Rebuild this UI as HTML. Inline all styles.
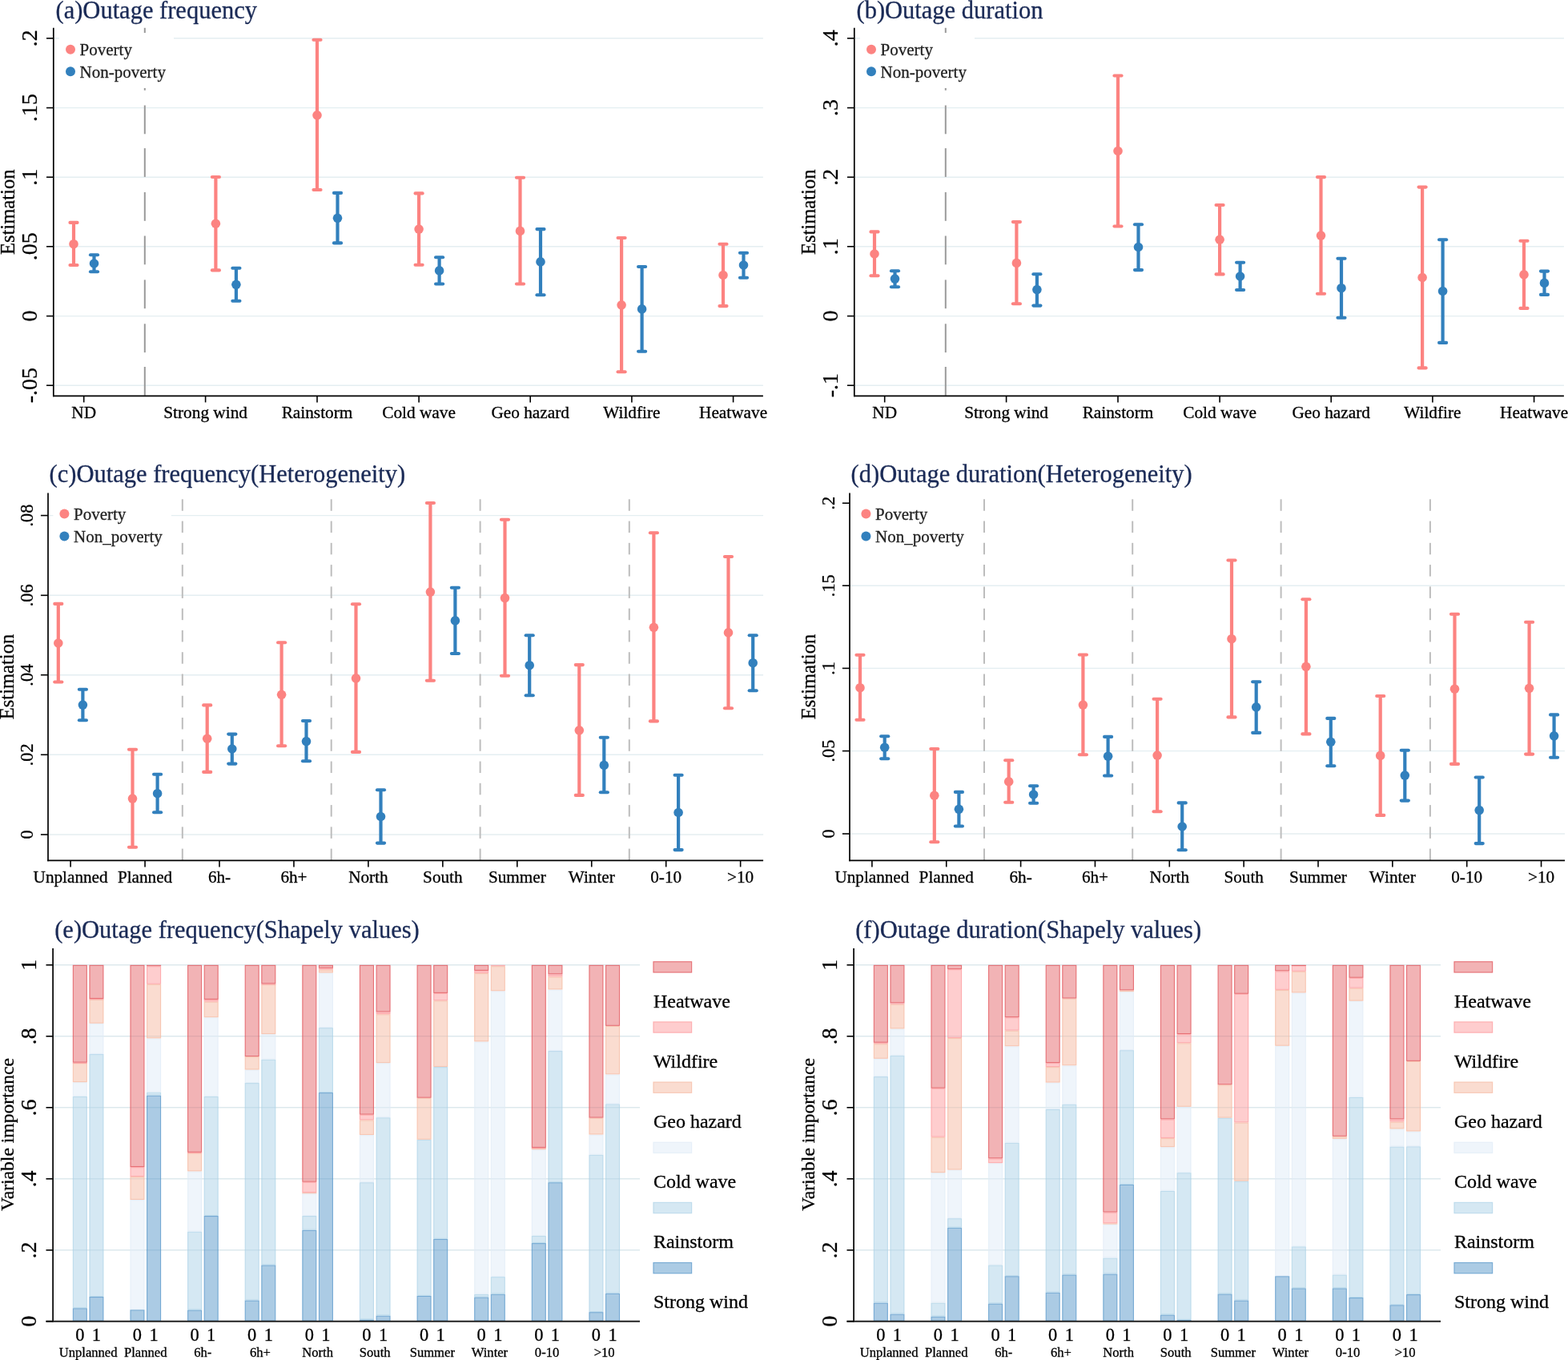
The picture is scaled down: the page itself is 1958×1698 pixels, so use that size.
<!DOCTYPE html>
<html><head><meta charset="utf-8"><title>Outage charts</title>
<style>html,body{margin:0;padding:0;background:#fff;overflow:hidden;}svg{display:block;}</style>
</head><body>
<svg width="1958" height="1698" viewBox="0 0 1958 1698">
<rect x="0" y="0" width="1958" height="1698" fill="#fff"/>
<g font-family='"Liberation Serif", "Times New Roman", serif'>
<line x1="67.6" y1="47.8" x2="952.9" y2="47.8" stroke="#e4eef1" stroke-width="1.4"/>
<line x1="67.6" y1="134.6" x2="952.9" y2="134.6" stroke="#e4eef1" stroke-width="1.4"/>
<line x1="67.6" y1="221.2" x2="952.9" y2="221.2" stroke="#e4eef1" stroke-width="1.4"/>
<line x1="67.6" y1="307.8" x2="952.9" y2="307.8" stroke="#e4eef1" stroke-width="1.4"/>
<line x1="67.6" y1="394.6" x2="952.9" y2="394.6" stroke="#e4eef1" stroke-width="1.4"/>
<line x1="67.6" y1="481.2" x2="952.9" y2="481.2" stroke="#e4eef1" stroke-width="1.4"/>
<line x1="180.8" y1="34.8" x2="180.8" y2="58.3" stroke="#9a9a9a" stroke-width="2"/>
<line x1="180.8" y1="77" x2="180.8" y2="112.8" stroke="#9a9a9a" stroke-width="2"/>
<line x1="180.8" y1="131.5" x2="180.8" y2="167.3" stroke="#9a9a9a" stroke-width="2"/>
<line x1="180.8" y1="185.1" x2="180.8" y2="220.9" stroke="#9a9a9a" stroke-width="2"/>
<line x1="180.8" y1="240" x2="180.8" y2="275.8" stroke="#9a9a9a" stroke-width="2"/>
<line x1="180.8" y1="294.5" x2="180.8" y2="330.3" stroke="#9a9a9a" stroke-width="2"/>
<line x1="180.8" y1="349.4" x2="180.8" y2="385.2" stroke="#9a9a9a" stroke-width="2"/>
<line x1="180.8" y1="404.3" x2="180.8" y2="440.1" stroke="#9a9a9a" stroke-width="2"/>
<line x1="180.8" y1="458" x2="180.8" y2="493.8" stroke="#9a9a9a" stroke-width="2"/>
<rect x="74" y="41" width="143" height="69" fill="#fff"/>
<circle cx="88" cy="61.7" r="6" fill="#fc8381"/>
<circle cx="88" cy="89.3" r="6" fill="#3280bd"/>
<text x="99.6" y="69" font-size="21" text-anchor="start" fill="#222" stroke="#222" stroke-width="0.3">Poverty</text>
<text x="99.6" y="96.6" font-size="21" text-anchor="start" fill="#222" stroke="#222" stroke-width="0.3">Non-poverty</text>
<line x1="66.8" y1="34.8" x2="66.8" y2="495.2" stroke="#000" stroke-width="1.7"/>
<line x1="66" y1="494.4" x2="952.9" y2="494.4" stroke="#000" stroke-width="1.7"/>
<line x1="58" y1="47.8" x2="66.8" y2="47.8" stroke="#000" stroke-width="1.6"/>
<text transform="translate(46.3,47.8) rotate(-90)" font-size="28" text-anchor="middle" fill="#000" stroke="#000" stroke-width="0.3">.2</text>
<line x1="58" y1="134.6" x2="66.8" y2="134.6" stroke="#000" stroke-width="1.6"/>
<text transform="translate(46.3,134.6) rotate(-90)" font-size="28" text-anchor="middle" fill="#000" stroke="#000" stroke-width="0.3">.15</text>
<line x1="58" y1="221.2" x2="66.8" y2="221.2" stroke="#000" stroke-width="1.6"/>
<text transform="translate(46.3,221.2) rotate(-90)" font-size="28" text-anchor="middle" fill="#000" stroke="#000" stroke-width="0.3">.1</text>
<line x1="58" y1="307.8" x2="66.8" y2="307.8" stroke="#000" stroke-width="1.6"/>
<text transform="translate(46.3,307.8) rotate(-90)" font-size="28" text-anchor="middle" fill="#000" stroke="#000" stroke-width="0.3">.05</text>
<line x1="58" y1="394.6" x2="66.8" y2="394.6" stroke="#000" stroke-width="1.6"/>
<text transform="translate(46.3,394.6) rotate(-90)" font-size="28" text-anchor="middle" fill="#000" stroke="#000" stroke-width="0.3">0</text>
<line x1="58" y1="481.2" x2="66.8" y2="481.2" stroke="#000" stroke-width="1.6"/>
<text transform="translate(46.3,481.2) rotate(-90)" font-size="28" text-anchor="middle" fill="#000" stroke="#000" stroke-width="0.3">-.05</text>
<line x1="104.7" y1="494.4" x2="104.7" y2="502.4" stroke="#000" stroke-width="1.6"/>
<text x="104.7" y="522.2" font-size="21.3" text-anchor="middle" fill="#000" stroke="#000" stroke-width="0.3">ND</text>
<line x1="256.6" y1="494.4" x2="256.6" y2="502.4" stroke="#000" stroke-width="1.6"/>
<text x="256.6" y="522.2" font-size="21.3" text-anchor="middle" fill="#000" stroke="#000" stroke-width="0.3">Strong wind</text>
<line x1="396" y1="494.4" x2="396" y2="502.4" stroke="#000" stroke-width="1.6"/>
<text x="396" y="522.2" font-size="21.3" text-anchor="middle" fill="#000" stroke="#000" stroke-width="0.3">Rainstorm</text>
<line x1="523.1" y1="494.4" x2="523.1" y2="502.4" stroke="#000" stroke-width="1.6"/>
<text x="523.1" y="522.2" font-size="21.3" text-anchor="middle" fill="#000" stroke="#000" stroke-width="0.3">Cold wave</text>
<line x1="662.2" y1="494.4" x2="662.2" y2="502.4" stroke="#000" stroke-width="1.6"/>
<text x="662.2" y="522.2" font-size="21.3" text-anchor="middle" fill="#000" stroke="#000" stroke-width="0.3">Geo hazard</text>
<line x1="788.9" y1="494.4" x2="788.9" y2="502.4" stroke="#000" stroke-width="1.6"/>
<text x="788.9" y="522.2" font-size="21.3" text-anchor="middle" fill="#000" stroke="#000" stroke-width="0.3">Wildfire</text>
<line x1="915.6" y1="494.4" x2="915.6" y2="502.4" stroke="#000" stroke-width="1.6"/>
<text x="915.6" y="522.2" font-size="21.3" text-anchor="middle" fill="#000" stroke="#000" stroke-width="0.3">Heatwave</text>
<text transform="translate(18.3,264.8) rotate(-90)" font-size="24.6" text-anchor="middle" fill="#000" stroke="#000" stroke-width="0.3">Estimation</text>
<text x="69.5" y="22.6" font-size="30.5" text-anchor="start" fill="#1a2a56" stroke="#1a2a56" stroke-width="0.3">(a)Outage frequency</text>
<line x1="92" y1="277.9" x2="92" y2="331" stroke="#fc8381" stroke-width="4.2"/>
<line x1="87.45" y1="277.9" x2="96.55" y2="277.9" stroke="#fc8381" stroke-width="4.1" stroke-linecap="round"/>
<line x1="87.45" y1="331" x2="96.55" y2="331" stroke="#fc8381" stroke-width="4.1" stroke-linecap="round"/>
<circle cx="92" cy="304.7" r="5.8" fill="#fc8381"/>
<line x1="117.5" y1="318.2" x2="117.5" y2="339.2" stroke="#3280bd" stroke-width="4.2"/>
<line x1="112.95" y1="318.2" x2="122.05" y2="318.2" stroke="#3280bd" stroke-width="4.1" stroke-linecap="round"/>
<line x1="112.95" y1="339.2" x2="122.05" y2="339.2" stroke="#3280bd" stroke-width="4.1" stroke-linecap="round"/>
<circle cx="117.5" cy="329" r="5.8" fill="#3280bd"/>
<line x1="269.4" y1="221" x2="269.4" y2="337.4" stroke="#fc8381" stroke-width="4.2"/>
<line x1="264.85" y1="221" x2="273.95" y2="221" stroke="#fc8381" stroke-width="4.1" stroke-linecap="round"/>
<line x1="264.85" y1="337.4" x2="273.95" y2="337.4" stroke="#fc8381" stroke-width="4.1" stroke-linecap="round"/>
<circle cx="269.4" cy="279.2" r="5.8" fill="#fc8381"/>
<line x1="294.9" y1="334.8" x2="294.9" y2="375.7" stroke="#3280bd" stroke-width="4.2"/>
<line x1="290.35" y1="334.8" x2="299.45" y2="334.8" stroke="#3280bd" stroke-width="4.1" stroke-linecap="round"/>
<line x1="290.35" y1="375.7" x2="299.45" y2="375.7" stroke="#3280bd" stroke-width="4.1" stroke-linecap="round"/>
<circle cx="294.9" cy="355.3" r="5.8" fill="#3280bd"/>
<line x1="396" y1="49.8" x2="396" y2="237" stroke="#fc8381" stroke-width="4.2"/>
<line x1="391.45" y1="49.8" x2="400.55" y2="49.8" stroke="#fc8381" stroke-width="4.1" stroke-linecap="round"/>
<line x1="391.45" y1="237" x2="400.55" y2="237" stroke="#fc8381" stroke-width="4.1" stroke-linecap="round"/>
<circle cx="396" cy="143.8" r="5.8" fill="#fc8381"/>
<line x1="421.5" y1="240.9" x2="421.5" y2="303.4" stroke="#3280bd" stroke-width="4.2"/>
<line x1="416.95" y1="240.9" x2="426.05" y2="240.9" stroke="#3280bd" stroke-width="4.1" stroke-linecap="round"/>
<line x1="416.95" y1="303.4" x2="426.05" y2="303.4" stroke="#3280bd" stroke-width="4.1" stroke-linecap="round"/>
<circle cx="421.5" cy="272.3" r="5.8" fill="#3280bd"/>
<line x1="523.1" y1="241.4" x2="523.1" y2="330.7" stroke="#fc8381" stroke-width="4.2"/>
<line x1="518.55" y1="241.4" x2="527.65" y2="241.4" stroke="#fc8381" stroke-width="4.1" stroke-linecap="round"/>
<line x1="518.55" y1="330.7" x2="527.65" y2="330.7" stroke="#fc8381" stroke-width="4.1" stroke-linecap="round"/>
<circle cx="523.1" cy="286.1" r="5.8" fill="#fc8381"/>
<line x1="548.6" y1="321.3" x2="548.6" y2="354.5" stroke="#3280bd" stroke-width="4.2"/>
<line x1="544.05" y1="321.3" x2="553.15" y2="321.3" stroke="#3280bd" stroke-width="4.1" stroke-linecap="round"/>
<line x1="544.05" y1="354.5" x2="553.15" y2="354.5" stroke="#3280bd" stroke-width="4.1" stroke-linecap="round"/>
<circle cx="548.6" cy="337.9" r="5.8" fill="#3280bd"/>
<line x1="649.5" y1="221.7" x2="649.5" y2="354.5" stroke="#fc8381" stroke-width="4.2"/>
<line x1="644.95" y1="221.7" x2="654.05" y2="221.7" stroke="#fc8381" stroke-width="4.1" stroke-linecap="round"/>
<line x1="644.95" y1="354.5" x2="654.05" y2="354.5" stroke="#fc8381" stroke-width="4.1" stroke-linecap="round"/>
<circle cx="649.5" cy="288.4" r="5.8" fill="#fc8381"/>
<line x1="675" y1="286.1" x2="675" y2="368.3" stroke="#3280bd" stroke-width="4.2"/>
<line x1="670.45" y1="286.1" x2="679.55" y2="286.1" stroke="#3280bd" stroke-width="4.1" stroke-linecap="round"/>
<line x1="670.45" y1="368.3" x2="679.55" y2="368.3" stroke="#3280bd" stroke-width="4.1" stroke-linecap="round"/>
<circle cx="675" cy="326.9" r="5.8" fill="#3280bd"/>
<line x1="776.1" y1="297" x2="776.1" y2="464.3" stroke="#fc8381" stroke-width="4.2"/>
<line x1="771.55" y1="297" x2="780.65" y2="297" stroke="#fc8381" stroke-width="4.1" stroke-linecap="round"/>
<line x1="771.55" y1="464.3" x2="780.65" y2="464.3" stroke="#fc8381" stroke-width="4.1" stroke-linecap="round"/>
<circle cx="776.1" cy="380.8" r="5.8" fill="#fc8381"/>
<line x1="801.6" y1="333" x2="801.6" y2="438.8" stroke="#3280bd" stroke-width="4.2"/>
<line x1="797.05" y1="333" x2="806.15" y2="333" stroke="#3280bd" stroke-width="4.1" stroke-linecap="round"/>
<line x1="797.05" y1="438.8" x2="806.15" y2="438.8" stroke="#3280bd" stroke-width="4.1" stroke-linecap="round"/>
<circle cx="801.6" cy="385.9" r="5.8" fill="#3280bd"/>
<line x1="903" y1="304.7" x2="903" y2="382.1" stroke="#fc8381" stroke-width="4.2"/>
<line x1="898.45" y1="304.7" x2="907.55" y2="304.7" stroke="#fc8381" stroke-width="4.1" stroke-linecap="round"/>
<line x1="898.45" y1="382.1" x2="907.55" y2="382.1" stroke="#fc8381" stroke-width="4.1" stroke-linecap="round"/>
<circle cx="903" cy="343.5" r="5.8" fill="#fc8381"/>
<line x1="928.5" y1="315.7" x2="928.5" y2="346.8" stroke="#3280bd" stroke-width="4.2"/>
<line x1="923.95" y1="315.7" x2="933.05" y2="315.7" stroke="#3280bd" stroke-width="4.1" stroke-linecap="round"/>
<line x1="923.95" y1="346.8" x2="933.05" y2="346.8" stroke="#3280bd" stroke-width="4.1" stroke-linecap="round"/>
<circle cx="928.5" cy="331" r="5.8" fill="#3280bd"/>
<line x1="1067.6" y1="47.8" x2="1952.9" y2="47.8" stroke="#e4eef1" stroke-width="1.4"/>
<line x1="1067.6" y1="134.6" x2="1952.9" y2="134.6" stroke="#e4eef1" stroke-width="1.4"/>
<line x1="1067.6" y1="221.2" x2="1952.9" y2="221.2" stroke="#e4eef1" stroke-width="1.4"/>
<line x1="1067.6" y1="307.8" x2="1952.9" y2="307.8" stroke="#e4eef1" stroke-width="1.4"/>
<line x1="1067.6" y1="394.6" x2="1952.9" y2="394.6" stroke="#e4eef1" stroke-width="1.4"/>
<line x1="1067.6" y1="481.2" x2="1952.9" y2="481.2" stroke="#e4eef1" stroke-width="1.4"/>
<line x1="1180.8" y1="34.8" x2="1180.8" y2="58.3" stroke="#9a9a9a" stroke-width="2"/>
<line x1="1180.8" y1="77" x2="1180.8" y2="112.8" stroke="#9a9a9a" stroke-width="2"/>
<line x1="1180.8" y1="131.5" x2="1180.8" y2="167.3" stroke="#9a9a9a" stroke-width="2"/>
<line x1="1180.8" y1="185.1" x2="1180.8" y2="220.9" stroke="#9a9a9a" stroke-width="2"/>
<line x1="1180.8" y1="240" x2="1180.8" y2="275.8" stroke="#9a9a9a" stroke-width="2"/>
<line x1="1180.8" y1="294.5" x2="1180.8" y2="330.3" stroke="#9a9a9a" stroke-width="2"/>
<line x1="1180.8" y1="349.4" x2="1180.8" y2="385.2" stroke="#9a9a9a" stroke-width="2"/>
<line x1="1180.8" y1="404.3" x2="1180.8" y2="440.1" stroke="#9a9a9a" stroke-width="2"/>
<line x1="1180.8" y1="458" x2="1180.8" y2="493.8" stroke="#9a9a9a" stroke-width="2"/>
<rect x="1074" y="41" width="143" height="69" fill="#fff"/>
<circle cx="1088" cy="61.7" r="6" fill="#fc8381"/>
<circle cx="1088" cy="89.3" r="6" fill="#3280bd"/>
<text x="1099.6" y="69" font-size="21" text-anchor="start" fill="#222" stroke="#222" stroke-width="0.3">Poverty</text>
<text x="1099.6" y="96.6" font-size="21" text-anchor="start" fill="#222" stroke="#222" stroke-width="0.3">Non-poverty</text>
<line x1="1066.8" y1="34.8" x2="1066.8" y2="495.2" stroke="#000" stroke-width="1.7"/>
<line x1="1066" y1="494.4" x2="1952.9" y2="494.4" stroke="#000" stroke-width="1.7"/>
<line x1="1058" y1="47.8" x2="1066.8" y2="47.8" stroke="#000" stroke-width="1.6"/>
<text transform="translate(1046.3,47.8) rotate(-90)" font-size="28" text-anchor="middle" fill="#000" stroke="#000" stroke-width="0.3">.4</text>
<line x1="1058" y1="134.6" x2="1066.8" y2="134.6" stroke="#000" stroke-width="1.6"/>
<text transform="translate(1046.3,134.6) rotate(-90)" font-size="28" text-anchor="middle" fill="#000" stroke="#000" stroke-width="0.3">.3</text>
<line x1="1058" y1="221.2" x2="1066.8" y2="221.2" stroke="#000" stroke-width="1.6"/>
<text transform="translate(1046.3,221.2) rotate(-90)" font-size="28" text-anchor="middle" fill="#000" stroke="#000" stroke-width="0.3">.2</text>
<line x1="1058" y1="307.8" x2="1066.8" y2="307.8" stroke="#000" stroke-width="1.6"/>
<text transform="translate(1046.3,307.8) rotate(-90)" font-size="28" text-anchor="middle" fill="#000" stroke="#000" stroke-width="0.3">.1</text>
<line x1="1058" y1="394.6" x2="1066.8" y2="394.6" stroke="#000" stroke-width="1.6"/>
<text transform="translate(1046.3,394.6) rotate(-90)" font-size="28" text-anchor="middle" fill="#000" stroke="#000" stroke-width="0.3">0</text>
<line x1="1058" y1="481.2" x2="1066.8" y2="481.2" stroke="#000" stroke-width="1.6"/>
<text transform="translate(1046.3,481.2) rotate(-90)" font-size="28" text-anchor="middle" fill="#000" stroke="#000" stroke-width="0.3">-.1</text>
<line x1="1104.7" y1="494.4" x2="1104.7" y2="502.4" stroke="#000" stroke-width="1.6"/>
<text x="1104.7" y="522.2" font-size="21.3" text-anchor="middle" fill="#000" stroke="#000" stroke-width="0.3">ND</text>
<line x1="1256.6" y1="494.4" x2="1256.6" y2="502.4" stroke="#000" stroke-width="1.6"/>
<text x="1256.6" y="522.2" font-size="21.3" text-anchor="middle" fill="#000" stroke="#000" stroke-width="0.3">Strong wind</text>
<line x1="1396" y1="494.4" x2="1396" y2="502.4" stroke="#000" stroke-width="1.6"/>
<text x="1396" y="522.2" font-size="21.3" text-anchor="middle" fill="#000" stroke="#000" stroke-width="0.3">Rainstorm</text>
<line x1="1523.1" y1="494.4" x2="1523.1" y2="502.4" stroke="#000" stroke-width="1.6"/>
<text x="1523.1" y="522.2" font-size="21.3" text-anchor="middle" fill="#000" stroke="#000" stroke-width="0.3">Cold wave</text>
<line x1="1662.2" y1="494.4" x2="1662.2" y2="502.4" stroke="#000" stroke-width="1.6"/>
<text x="1662.2" y="522.2" font-size="21.3" text-anchor="middle" fill="#000" stroke="#000" stroke-width="0.3">Geo hazard</text>
<line x1="1788.9" y1="494.4" x2="1788.9" y2="502.4" stroke="#000" stroke-width="1.6"/>
<text x="1788.9" y="522.2" font-size="21.3" text-anchor="middle" fill="#000" stroke="#000" stroke-width="0.3">Wildfire</text>
<line x1="1915.6" y1="494.4" x2="1915.6" y2="502.4" stroke="#000" stroke-width="1.6"/>
<text x="1915.6" y="522.2" font-size="21.3" text-anchor="middle" fill="#000" stroke="#000" stroke-width="0.3">Heatwave</text>
<text transform="translate(1018.3,264.8) rotate(-90)" font-size="24.6" text-anchor="middle" fill="#000" stroke="#000" stroke-width="0.3">Estimation</text>
<text x="1069.5" y="22.6" font-size="30.5" text-anchor="start" fill="#1a2a56" stroke="#1a2a56" stroke-width="0.3">(b)Outage duration</text>
<line x1="1092" y1="289.4" x2="1092" y2="344.3" stroke="#fc8381" stroke-width="4.2"/>
<line x1="1087.45" y1="289.4" x2="1096.55" y2="289.4" stroke="#fc8381" stroke-width="4.1" stroke-linecap="round"/>
<line x1="1087.45" y1="344.3" x2="1096.55" y2="344.3" stroke="#fc8381" stroke-width="4.1" stroke-linecap="round"/>
<circle cx="1092" cy="317" r="5.8" fill="#fc8381"/>
<line x1="1117.5" y1="338.2" x2="1117.5" y2="358.3" stroke="#3280bd" stroke-width="4.2"/>
<line x1="1112.95" y1="338.2" x2="1122.05" y2="338.2" stroke="#3280bd" stroke-width="4.1" stroke-linecap="round"/>
<line x1="1112.95" y1="358.3" x2="1122.05" y2="358.3" stroke="#3280bd" stroke-width="4.1" stroke-linecap="round"/>
<circle cx="1117.5" cy="348.1" r="5.8" fill="#3280bd"/>
<line x1="1269.4" y1="277.1" x2="1269.4" y2="379.3" stroke="#fc8381" stroke-width="4.2"/>
<line x1="1264.85" y1="277.1" x2="1273.95" y2="277.1" stroke="#fc8381" stroke-width="4.1" stroke-linecap="round"/>
<line x1="1264.85" y1="379.3" x2="1273.95" y2="379.3" stroke="#fc8381" stroke-width="4.1" stroke-linecap="round"/>
<circle cx="1269.4" cy="328.4" r="5.8" fill="#fc8381"/>
<line x1="1294.9" y1="342.2" x2="1294.9" y2="381.6" stroke="#3280bd" stroke-width="4.2"/>
<line x1="1290.35" y1="342.2" x2="1299.45" y2="342.2" stroke="#3280bd" stroke-width="4.1" stroke-linecap="round"/>
<line x1="1290.35" y1="381.6" x2="1299.45" y2="381.6" stroke="#3280bd" stroke-width="4.1" stroke-linecap="round"/>
<circle cx="1294.9" cy="361.6" r="5.8" fill="#3280bd"/>
<line x1="1396" y1="94.5" x2="1396" y2="282.5" stroke="#fc8381" stroke-width="4.2"/>
<line x1="1391.45" y1="94.5" x2="1400.55" y2="94.5" stroke="#fc8381" stroke-width="4.1" stroke-linecap="round"/>
<line x1="1391.45" y1="282.5" x2="1400.55" y2="282.5" stroke="#fc8381" stroke-width="4.1" stroke-linecap="round"/>
<circle cx="1396" cy="188.5" r="5.8" fill="#fc8381"/>
<line x1="1421.5" y1="280.2" x2="1421.5" y2="337.1" stroke="#3280bd" stroke-width="4.2"/>
<line x1="1416.95" y1="280.2" x2="1426.05" y2="280.2" stroke="#3280bd" stroke-width="4.1" stroke-linecap="round"/>
<line x1="1416.95" y1="337.1" x2="1426.05" y2="337.1" stroke="#3280bd" stroke-width="4.1" stroke-linecap="round"/>
<circle cx="1421.5" cy="308.5" r="5.8" fill="#3280bd"/>
<line x1="1523.1" y1="256" x2="1523.1" y2="342.4" stroke="#fc8381" stroke-width="4.2"/>
<line x1="1518.55" y1="256" x2="1527.65" y2="256" stroke="#fc8381" stroke-width="4.1" stroke-linecap="round"/>
<line x1="1518.55" y1="342.4" x2="1527.65" y2="342.4" stroke="#fc8381" stroke-width="4.1" stroke-linecap="round"/>
<circle cx="1523.1" cy="299.2" r="5.8" fill="#fc8381"/>
<line x1="1548.6" y1="327.7" x2="1548.6" y2="362" stroke="#3280bd" stroke-width="4.2"/>
<line x1="1544.05" y1="327.7" x2="1553.15" y2="327.7" stroke="#3280bd" stroke-width="4.1" stroke-linecap="round"/>
<line x1="1544.05" y1="362" x2="1553.15" y2="362" stroke="#3280bd" stroke-width="4.1" stroke-linecap="round"/>
<circle cx="1548.6" cy="345" r="5.8" fill="#3280bd"/>
<line x1="1649.5" y1="221.1" x2="1649.5" y2="366.8" stroke="#fc8381" stroke-width="4.2"/>
<line x1="1644.95" y1="221.1" x2="1654.05" y2="221.1" stroke="#fc8381" stroke-width="4.1" stroke-linecap="round"/>
<line x1="1644.95" y1="366.8" x2="1654.05" y2="366.8" stroke="#fc8381" stroke-width="4.1" stroke-linecap="round"/>
<circle cx="1649.5" cy="294.1" r="5.8" fill="#fc8381"/>
<line x1="1675" y1="322.8" x2="1675" y2="396.8" stroke="#3280bd" stroke-width="4.2"/>
<line x1="1670.45" y1="322.8" x2="1679.55" y2="322.8" stroke="#3280bd" stroke-width="4.1" stroke-linecap="round"/>
<line x1="1670.45" y1="396.8" x2="1679.55" y2="396.8" stroke="#3280bd" stroke-width="4.1" stroke-linecap="round"/>
<circle cx="1675" cy="359.7" r="5.8" fill="#3280bd"/>
<line x1="1776.1" y1="233.6" x2="1776.1" y2="459.4" stroke="#fc8381" stroke-width="4.2"/>
<line x1="1771.55" y1="233.6" x2="1780.65" y2="233.6" stroke="#fc8381" stroke-width="4.1" stroke-linecap="round"/>
<line x1="1771.55" y1="459.4" x2="1780.65" y2="459.4" stroke="#fc8381" stroke-width="4.1" stroke-linecap="round"/>
<circle cx="1776.1" cy="346.5" r="5.8" fill="#fc8381"/>
<line x1="1801.6" y1="299.2" x2="1801.6" y2="427.9" stroke="#3280bd" stroke-width="4.2"/>
<line x1="1797.05" y1="299.2" x2="1806.15" y2="299.2" stroke="#3280bd" stroke-width="4.1" stroke-linecap="round"/>
<line x1="1797.05" y1="427.9" x2="1806.15" y2="427.9" stroke="#3280bd" stroke-width="4.1" stroke-linecap="round"/>
<circle cx="1801.6" cy="363.5" r="5.8" fill="#3280bd"/>
<line x1="1903" y1="300.7" x2="1903" y2="384.9" stroke="#fc8381" stroke-width="4.2"/>
<line x1="1898.45" y1="300.7" x2="1907.55" y2="300.7" stroke="#fc8381" stroke-width="4.1" stroke-linecap="round"/>
<line x1="1898.45" y1="384.9" x2="1907.55" y2="384.9" stroke="#fc8381" stroke-width="4.1" stroke-linecap="round"/>
<circle cx="1903" cy="342.9" r="5.8" fill="#fc8381"/>
<line x1="1928.5" y1="338.6" x2="1928.5" y2="367.9" stroke="#3280bd" stroke-width="4.2"/>
<line x1="1923.95" y1="338.6" x2="1933.05" y2="338.6" stroke="#3280bd" stroke-width="4.1" stroke-linecap="round"/>
<line x1="1923.95" y1="367.9" x2="1933.05" y2="367.9" stroke="#3280bd" stroke-width="4.1" stroke-linecap="round"/>
<circle cx="1928.5" cy="353.4" r="5.8" fill="#3280bd"/>
<line x1="60.8" y1="643.6" x2="953.1" y2="643.6" stroke="#e4eef1" stroke-width="1.4"/>
<line x1="60.8" y1="743.3" x2="953.1" y2="743.3" stroke="#e4eef1" stroke-width="1.4"/>
<line x1="60.8" y1="842.7" x2="953.1" y2="842.7" stroke="#e4eef1" stroke-width="1.4"/>
<line x1="60.8" y1="942.3" x2="953.1" y2="942.3" stroke="#e4eef1" stroke-width="1.4"/>
<line x1="60.8" y1="1042" x2="953.1" y2="1042" stroke="#e4eef1" stroke-width="1.4"/>
<line x1="227.8" y1="623.3" x2="227.8" y2="637.8" stroke="#bdbdbd" stroke-width="2"/>
<line x1="227.8" y1="650.57" x2="227.8" y2="665.07" stroke="#bdbdbd" stroke-width="2"/>
<line x1="227.8" y1="677.84" x2="227.8" y2="692.34" stroke="#bdbdbd" stroke-width="2"/>
<line x1="227.8" y1="705.11" x2="227.8" y2="719.61" stroke="#bdbdbd" stroke-width="2"/>
<line x1="227.8" y1="732.38" x2="227.8" y2="746.88" stroke="#bdbdbd" stroke-width="2"/>
<line x1="227.8" y1="759.65" x2="227.8" y2="774.15" stroke="#bdbdbd" stroke-width="2"/>
<line x1="227.8" y1="786.92" x2="227.8" y2="801.42" stroke="#bdbdbd" stroke-width="2"/>
<line x1="227.8" y1="814.19" x2="227.8" y2="828.69" stroke="#bdbdbd" stroke-width="2"/>
<line x1="227.8" y1="841.46" x2="227.8" y2="855.96" stroke="#bdbdbd" stroke-width="2"/>
<line x1="227.8" y1="868.73" x2="227.8" y2="883.23" stroke="#bdbdbd" stroke-width="2"/>
<line x1="227.8" y1="896" x2="227.8" y2="910.5" stroke="#bdbdbd" stroke-width="2"/>
<line x1="227.8" y1="923.27" x2="227.8" y2="937.77" stroke="#bdbdbd" stroke-width="2"/>
<line x1="227.8" y1="950.54" x2="227.8" y2="965.04" stroke="#bdbdbd" stroke-width="2"/>
<line x1="227.8" y1="977.81" x2="227.8" y2="992.31" stroke="#bdbdbd" stroke-width="2"/>
<line x1="227.8" y1="1005.08" x2="227.8" y2="1019.58" stroke="#bdbdbd" stroke-width="2"/>
<line x1="227.8" y1="1032.35" x2="227.8" y2="1046.85" stroke="#bdbdbd" stroke-width="2"/>
<line x1="227.8" y1="1059.62" x2="227.8" y2="1074.12" stroke="#bdbdbd" stroke-width="2"/>
<line x1="413.7" y1="623.3" x2="413.7" y2="637.8" stroke="#bdbdbd" stroke-width="2"/>
<line x1="413.7" y1="650.57" x2="413.7" y2="665.07" stroke="#bdbdbd" stroke-width="2"/>
<line x1="413.7" y1="677.84" x2="413.7" y2="692.34" stroke="#bdbdbd" stroke-width="2"/>
<line x1="413.7" y1="705.11" x2="413.7" y2="719.61" stroke="#bdbdbd" stroke-width="2"/>
<line x1="413.7" y1="732.38" x2="413.7" y2="746.88" stroke="#bdbdbd" stroke-width="2"/>
<line x1="413.7" y1="759.65" x2="413.7" y2="774.15" stroke="#bdbdbd" stroke-width="2"/>
<line x1="413.7" y1="786.92" x2="413.7" y2="801.42" stroke="#bdbdbd" stroke-width="2"/>
<line x1="413.7" y1="814.19" x2="413.7" y2="828.69" stroke="#bdbdbd" stroke-width="2"/>
<line x1="413.7" y1="841.46" x2="413.7" y2="855.96" stroke="#bdbdbd" stroke-width="2"/>
<line x1="413.7" y1="868.73" x2="413.7" y2="883.23" stroke="#bdbdbd" stroke-width="2"/>
<line x1="413.7" y1="896" x2="413.7" y2="910.5" stroke="#bdbdbd" stroke-width="2"/>
<line x1="413.7" y1="923.27" x2="413.7" y2="937.77" stroke="#bdbdbd" stroke-width="2"/>
<line x1="413.7" y1="950.54" x2="413.7" y2="965.04" stroke="#bdbdbd" stroke-width="2"/>
<line x1="413.7" y1="977.81" x2="413.7" y2="992.31" stroke="#bdbdbd" stroke-width="2"/>
<line x1="413.7" y1="1005.08" x2="413.7" y2="1019.58" stroke="#bdbdbd" stroke-width="2"/>
<line x1="413.7" y1="1032.35" x2="413.7" y2="1046.85" stroke="#bdbdbd" stroke-width="2"/>
<line x1="413.7" y1="1059.62" x2="413.7" y2="1074.12" stroke="#bdbdbd" stroke-width="2"/>
<line x1="599.6" y1="623.3" x2="599.6" y2="637.8" stroke="#bdbdbd" stroke-width="2"/>
<line x1="599.6" y1="650.57" x2="599.6" y2="665.07" stroke="#bdbdbd" stroke-width="2"/>
<line x1="599.6" y1="677.84" x2="599.6" y2="692.34" stroke="#bdbdbd" stroke-width="2"/>
<line x1="599.6" y1="705.11" x2="599.6" y2="719.61" stroke="#bdbdbd" stroke-width="2"/>
<line x1="599.6" y1="732.38" x2="599.6" y2="746.88" stroke="#bdbdbd" stroke-width="2"/>
<line x1="599.6" y1="759.65" x2="599.6" y2="774.15" stroke="#bdbdbd" stroke-width="2"/>
<line x1="599.6" y1="786.92" x2="599.6" y2="801.42" stroke="#bdbdbd" stroke-width="2"/>
<line x1="599.6" y1="814.19" x2="599.6" y2="828.69" stroke="#bdbdbd" stroke-width="2"/>
<line x1="599.6" y1="841.46" x2="599.6" y2="855.96" stroke="#bdbdbd" stroke-width="2"/>
<line x1="599.6" y1="868.73" x2="599.6" y2="883.23" stroke="#bdbdbd" stroke-width="2"/>
<line x1="599.6" y1="896" x2="599.6" y2="910.5" stroke="#bdbdbd" stroke-width="2"/>
<line x1="599.6" y1="923.27" x2="599.6" y2="937.77" stroke="#bdbdbd" stroke-width="2"/>
<line x1="599.6" y1="950.54" x2="599.6" y2="965.04" stroke="#bdbdbd" stroke-width="2"/>
<line x1="599.6" y1="977.81" x2="599.6" y2="992.31" stroke="#bdbdbd" stroke-width="2"/>
<line x1="599.6" y1="1005.08" x2="599.6" y2="1019.58" stroke="#bdbdbd" stroke-width="2"/>
<line x1="599.6" y1="1032.35" x2="599.6" y2="1046.85" stroke="#bdbdbd" stroke-width="2"/>
<line x1="599.6" y1="1059.62" x2="599.6" y2="1074.12" stroke="#bdbdbd" stroke-width="2"/>
<line x1="785.8" y1="623.3" x2="785.8" y2="637.8" stroke="#bdbdbd" stroke-width="2"/>
<line x1="785.8" y1="650.57" x2="785.8" y2="665.07" stroke="#bdbdbd" stroke-width="2"/>
<line x1="785.8" y1="677.84" x2="785.8" y2="692.34" stroke="#bdbdbd" stroke-width="2"/>
<line x1="785.8" y1="705.11" x2="785.8" y2="719.61" stroke="#bdbdbd" stroke-width="2"/>
<line x1="785.8" y1="732.38" x2="785.8" y2="746.88" stroke="#bdbdbd" stroke-width="2"/>
<line x1="785.8" y1="759.65" x2="785.8" y2="774.15" stroke="#bdbdbd" stroke-width="2"/>
<line x1="785.8" y1="786.92" x2="785.8" y2="801.42" stroke="#bdbdbd" stroke-width="2"/>
<line x1="785.8" y1="814.19" x2="785.8" y2="828.69" stroke="#bdbdbd" stroke-width="2"/>
<line x1="785.8" y1="841.46" x2="785.8" y2="855.96" stroke="#bdbdbd" stroke-width="2"/>
<line x1="785.8" y1="868.73" x2="785.8" y2="883.23" stroke="#bdbdbd" stroke-width="2"/>
<line x1="785.8" y1="896" x2="785.8" y2="910.5" stroke="#bdbdbd" stroke-width="2"/>
<line x1="785.8" y1="923.27" x2="785.8" y2="937.77" stroke="#bdbdbd" stroke-width="2"/>
<line x1="785.8" y1="950.54" x2="785.8" y2="965.04" stroke="#bdbdbd" stroke-width="2"/>
<line x1="785.8" y1="977.81" x2="785.8" y2="992.31" stroke="#bdbdbd" stroke-width="2"/>
<line x1="785.8" y1="1005.08" x2="785.8" y2="1019.58" stroke="#bdbdbd" stroke-width="2"/>
<line x1="785.8" y1="1032.35" x2="785.8" y2="1046.85" stroke="#bdbdbd" stroke-width="2"/>
<line x1="785.8" y1="1059.62" x2="785.8" y2="1074.12" stroke="#bdbdbd" stroke-width="2"/>
<rect x="66.4" y="620" width="147.4" height="71" fill="#fff"/>
<circle cx="80.4" cy="641.5" r="6" fill="#fc8381"/>
<circle cx="80.4" cy="669.6" r="6" fill="#3280bd"/>
<text x="92" y="649.3" font-size="21" text-anchor="start" fill="#222" stroke="#222" stroke-width="0.3">Poverty</text>
<text x="92" y="677.3" font-size="21" text-anchor="start" fill="#222" stroke="#222" stroke-width="0.3">Non_poverty</text>
<line x1="60" y1="615.5" x2="60" y2="1075.2" stroke="#000" stroke-width="1.7"/>
<line x1="59.2" y1="1074.4" x2="953.1" y2="1074.4" stroke="#000" stroke-width="1.7"/>
<line x1="50.9" y1="643.6" x2="60" y2="643.6" stroke="#000" stroke-width="1.6"/>
<text transform="translate(41,643.6) rotate(-90)" font-size="22.3" text-anchor="middle" fill="#000" stroke="#000" stroke-width="0.3">.08</text>
<line x1="50.9" y1="743.3" x2="60" y2="743.3" stroke="#000" stroke-width="1.6"/>
<text transform="translate(41,743.3) rotate(-90)" font-size="22.3" text-anchor="middle" fill="#000" stroke="#000" stroke-width="0.3">.06</text>
<line x1="50.9" y1="842.7" x2="60" y2="842.7" stroke="#000" stroke-width="1.6"/>
<text transform="translate(41,842.7) rotate(-90)" font-size="22.3" text-anchor="middle" fill="#000" stroke="#000" stroke-width="0.3">.04</text>
<line x1="50.9" y1="942.3" x2="60" y2="942.3" stroke="#000" stroke-width="1.6"/>
<text transform="translate(41,942.3) rotate(-90)" font-size="22.3" text-anchor="middle" fill="#000" stroke="#000" stroke-width="0.3">.02</text>
<line x1="50.9" y1="1042" x2="60" y2="1042" stroke="#000" stroke-width="1.6"/>
<text transform="translate(41,1042) rotate(-90)" font-size="22.3" text-anchor="middle" fill="#000" stroke="#000" stroke-width="0.3">0</text>
<line x1="88.1" y1="1074.4" x2="88.1" y2="1082.4" stroke="#000" stroke-width="1.6"/>
<text x="88.1" y="1101.8" font-size="21.2" text-anchor="middle" fill="#000" stroke="#000" stroke-width="0.3">Unplanned</text>
<line x1="181.05" y1="1074.4" x2="181.05" y2="1082.4" stroke="#000" stroke-width="1.6"/>
<text x="181.05" y="1101.8" font-size="21.2" text-anchor="middle" fill="#000" stroke="#000" stroke-width="0.3">Planned</text>
<line x1="274" y1="1074.4" x2="274" y2="1082.4" stroke="#000" stroke-width="1.6"/>
<text x="274" y="1101.8" font-size="21.2" text-anchor="middle" fill="#000" stroke="#000" stroke-width="0.3">6h-</text>
<line x1="366.95" y1="1074.4" x2="366.95" y2="1082.4" stroke="#000" stroke-width="1.6"/>
<text x="366.95" y="1101.8" font-size="21.2" text-anchor="middle" fill="#000" stroke="#000" stroke-width="0.3">6h+</text>
<line x1="459.9" y1="1074.4" x2="459.9" y2="1082.4" stroke="#000" stroke-width="1.6"/>
<text x="459.9" y="1101.8" font-size="21.2" text-anchor="middle" fill="#000" stroke="#000" stroke-width="0.3">North</text>
<line x1="552.85" y1="1074.4" x2="552.85" y2="1082.4" stroke="#000" stroke-width="1.6"/>
<text x="552.85" y="1101.8" font-size="21.2" text-anchor="middle" fill="#000" stroke="#000" stroke-width="0.3">South</text>
<line x1="645.8" y1="1074.4" x2="645.8" y2="1082.4" stroke="#000" stroke-width="1.6"/>
<text x="645.8" y="1101.8" font-size="21.2" text-anchor="middle" fill="#000" stroke="#000" stroke-width="0.3">Summer</text>
<line x1="738.75" y1="1074.4" x2="738.75" y2="1082.4" stroke="#000" stroke-width="1.6"/>
<text x="738.75" y="1101.8" font-size="21.2" text-anchor="middle" fill="#000" stroke="#000" stroke-width="0.3">Winter</text>
<line x1="831.7" y1="1074.4" x2="831.7" y2="1082.4" stroke="#000" stroke-width="1.6"/>
<text x="831.7" y="1101.8" font-size="21.2" text-anchor="middle" fill="#000" stroke="#000" stroke-width="0.3">0-10</text>
<line x1="924.65" y1="1074.4" x2="924.65" y2="1082.4" stroke="#000" stroke-width="1.6"/>
<text x="924.65" y="1101.8" font-size="21.2" text-anchor="middle" fill="#000" stroke="#000" stroke-width="0.3">&gt;10</text>
<text transform="translate(16.9,845) rotate(-90)" font-size="24.6" text-anchor="middle" fill="#000" stroke="#000" stroke-width="0.3">Estimation</text>
<text x="61.6" y="602.2" font-size="30.5" text-anchor="start" fill="#1a2a56" stroke="#1a2a56" stroke-width="0.3">(c)Outage frequency(Heterogeneity)</text>
<line x1="72.8" y1="753.9" x2="72.8" y2="851.5" stroke="#fc8381" stroke-width="4.2"/>
<line x1="68.25" y1="753.9" x2="77.35" y2="753.9" stroke="#fc8381" stroke-width="4.1" stroke-linecap="round"/>
<line x1="68.25" y1="851.5" x2="77.35" y2="851.5" stroke="#fc8381" stroke-width="4.1" stroke-linecap="round"/>
<circle cx="72.8" cy="803" r="5.8" fill="#fc8381"/>
<line x1="103.4" y1="860.7" x2="103.4" y2="899.3" stroke="#3280bd" stroke-width="4.2"/>
<line x1="98.85" y1="860.7" x2="107.95" y2="860.7" stroke="#3280bd" stroke-width="4.1" stroke-linecap="round"/>
<line x1="98.85" y1="899.3" x2="107.95" y2="899.3" stroke="#3280bd" stroke-width="4.1" stroke-linecap="round"/>
<circle cx="103.4" cy="880.1" r="5.8" fill="#3280bd"/>
<line x1="165.5" y1="935.8" x2="165.5" y2="1057.8" stroke="#fc8381" stroke-width="4.2"/>
<line x1="160.95" y1="935.8" x2="170.05" y2="935.8" stroke="#fc8381" stroke-width="4.1" stroke-linecap="round"/>
<line x1="160.95" y1="1057.8" x2="170.05" y2="1057.8" stroke="#fc8381" stroke-width="4.1" stroke-linecap="round"/>
<circle cx="165.5" cy="997.1" r="5.8" fill="#fc8381"/>
<line x1="196.6" y1="966.7" x2="196.6" y2="1014.2" stroke="#3280bd" stroke-width="4.2"/>
<line x1="192.05" y1="966.7" x2="201.15" y2="966.7" stroke="#3280bd" stroke-width="4.1" stroke-linecap="round"/>
<line x1="192.05" y1="1014.2" x2="201.15" y2="1014.2" stroke="#3280bd" stroke-width="4.1" stroke-linecap="round"/>
<circle cx="196.6" cy="990.7" r="5.8" fill="#3280bd"/>
<line x1="258.7" y1="880.4" x2="258.7" y2="963.9" stroke="#fc8381" stroke-width="4.2"/>
<line x1="254.15" y1="880.4" x2="263.25" y2="880.4" stroke="#fc8381" stroke-width="4.1" stroke-linecap="round"/>
<line x1="254.15" y1="963.9" x2="263.25" y2="963.9" stroke="#fc8381" stroke-width="4.1" stroke-linecap="round"/>
<circle cx="258.7" cy="922.2" r="5.8" fill="#fc8381"/>
<line x1="289.8" y1="916.6" x2="289.8" y2="953.6" stroke="#3280bd" stroke-width="4.2"/>
<line x1="285.25" y1="916.6" x2="294.35" y2="916.6" stroke="#3280bd" stroke-width="4.1" stroke-linecap="round"/>
<line x1="285.25" y1="953.6" x2="294.35" y2="953.6" stroke="#3280bd" stroke-width="4.1" stroke-linecap="round"/>
<circle cx="289.8" cy="935" r="5.8" fill="#3280bd"/>
<line x1="351.6" y1="802.2" x2="351.6" y2="931.2" stroke="#fc8381" stroke-width="4.2"/>
<line x1="347.05" y1="802.2" x2="356.15" y2="802.2" stroke="#fc8381" stroke-width="4.1" stroke-linecap="round"/>
<line x1="347.05" y1="931.2" x2="356.15" y2="931.2" stroke="#fc8381" stroke-width="4.1" stroke-linecap="round"/>
<circle cx="351.6" cy="867.3" r="5.8" fill="#fc8381"/>
<line x1="382.5" y1="900" x2="382.5" y2="950.3" stroke="#3280bd" stroke-width="4.2"/>
<line x1="377.95" y1="900" x2="387.05" y2="900" stroke="#3280bd" stroke-width="4.1" stroke-linecap="round"/>
<line x1="377.95" y1="950.3" x2="387.05" y2="950.3" stroke="#3280bd" stroke-width="4.1" stroke-linecap="round"/>
<circle cx="382.5" cy="925.6" r="5.8" fill="#3280bd"/>
<line x1="444.5" y1="754.2" x2="444.5" y2="938.9" stroke="#fc8381" stroke-width="4.2"/>
<line x1="439.95" y1="754.2" x2="449.05" y2="754.2" stroke="#fc8381" stroke-width="4.1" stroke-linecap="round"/>
<line x1="439.95" y1="938.9" x2="449.05" y2="938.9" stroke="#fc8381" stroke-width="4.1" stroke-linecap="round"/>
<circle cx="444.5" cy="846.8" r="5.8" fill="#fc8381"/>
<line x1="475.5" y1="986.3" x2="475.5" y2="1052.6" stroke="#3280bd" stroke-width="4.2"/>
<line x1="470.95" y1="986.3" x2="480.05" y2="986.3" stroke="#3280bd" stroke-width="4.1" stroke-linecap="round"/>
<line x1="470.95" y1="1052.6" x2="480.05" y2="1052.6" stroke="#3280bd" stroke-width="4.1" stroke-linecap="round"/>
<circle cx="475.5" cy="1019.5" r="5.8" fill="#3280bd"/>
<line x1="537.4" y1="628" x2="537.4" y2="849.7" stroke="#fc8381" stroke-width="4.2"/>
<line x1="532.85" y1="628" x2="541.95" y2="628" stroke="#fc8381" stroke-width="4.1" stroke-linecap="round"/>
<line x1="532.85" y1="849.7" x2="541.95" y2="849.7" stroke="#fc8381" stroke-width="4.1" stroke-linecap="round"/>
<circle cx="537.4" cy="739.1" r="5.8" fill="#fc8381"/>
<line x1="568.4" y1="733.7" x2="568.4" y2="816" stroke="#3280bd" stroke-width="4.2"/>
<line x1="563.85" y1="733.7" x2="572.95" y2="733.7" stroke="#3280bd" stroke-width="4.1" stroke-linecap="round"/>
<line x1="563.85" y1="816" x2="572.95" y2="816" stroke="#3280bd" stroke-width="4.1" stroke-linecap="round"/>
<circle cx="568.4" cy="774.9" r="5.8" fill="#3280bd"/>
<line x1="630.5" y1="648.7" x2="630.5" y2="843.7" stroke="#fc8381" stroke-width="4.2"/>
<line x1="625.95" y1="648.7" x2="635.05" y2="648.7" stroke="#fc8381" stroke-width="4.1" stroke-linecap="round"/>
<line x1="625.95" y1="843.7" x2="635.05" y2="843.7" stroke="#fc8381" stroke-width="4.1" stroke-linecap="round"/>
<circle cx="630.5" cy="746.6" r="5.8" fill="#fc8381"/>
<line x1="661.2" y1="793.2" x2="661.2" y2="868.3" stroke="#3280bd" stroke-width="4.2"/>
<line x1="656.65" y1="793.2" x2="665.75" y2="793.2" stroke="#3280bd" stroke-width="4.1" stroke-linecap="round"/>
<line x1="656.65" y1="868.3" x2="665.75" y2="868.3" stroke="#3280bd" stroke-width="4.1" stroke-linecap="round"/>
<circle cx="661.2" cy="830.7" r="5.8" fill="#3280bd"/>
<line x1="723.3" y1="830.1" x2="723.3" y2="992.9" stroke="#fc8381" stroke-width="4.2"/>
<line x1="718.75" y1="830.1" x2="727.85" y2="830.1" stroke="#fc8381" stroke-width="4.1" stroke-linecap="round"/>
<line x1="718.75" y1="992.9" x2="727.85" y2="992.9" stroke="#fc8381" stroke-width="4.1" stroke-linecap="round"/>
<circle cx="723.3" cy="911.8" r="5.8" fill="#fc8381"/>
<line x1="754.3" y1="920.8" x2="754.3" y2="989.3" stroke="#3280bd" stroke-width="4.2"/>
<line x1="749.75" y1="920.8" x2="758.85" y2="920.8" stroke="#3280bd" stroke-width="4.1" stroke-linecap="round"/>
<line x1="749.75" y1="989.3" x2="758.85" y2="989.3" stroke="#3280bd" stroke-width="4.1" stroke-linecap="round"/>
<circle cx="754.3" cy="955.4" r="5.8" fill="#3280bd"/>
<line x1="816.4" y1="665.3" x2="816.4" y2="900.4" stroke="#fc8381" stroke-width="4.2"/>
<line x1="811.85" y1="665.3" x2="820.95" y2="665.3" stroke="#fc8381" stroke-width="4.1" stroke-linecap="round"/>
<line x1="811.85" y1="900.4" x2="820.95" y2="900.4" stroke="#fc8381" stroke-width="4.1" stroke-linecap="round"/>
<circle cx="816.4" cy="783.3" r="5.8" fill="#fc8381"/>
<line x1="847.1" y1="967.7" x2="847.1" y2="1061.1" stroke="#3280bd" stroke-width="4.2"/>
<line x1="842.55" y1="967.7" x2="851.65" y2="967.7" stroke="#3280bd" stroke-width="4.1" stroke-linecap="round"/>
<line x1="842.55" y1="1061.1" x2="851.65" y2="1061.1" stroke="#3280bd" stroke-width="4.1" stroke-linecap="round"/>
<circle cx="847.1" cy="1014.5" r="5.8" fill="#3280bd"/>
<line x1="909.5" y1="695" x2="909.5" y2="884.2" stroke="#fc8381" stroke-width="4.2"/>
<line x1="904.95" y1="695" x2="914.05" y2="695" stroke="#fc8381" stroke-width="4.1" stroke-linecap="round"/>
<line x1="904.95" y1="884.2" x2="914.05" y2="884.2" stroke="#fc8381" stroke-width="4.1" stroke-linecap="round"/>
<circle cx="909.5" cy="789.9" r="5.8" fill="#fc8381"/>
<line x1="940.2" y1="793.2" x2="940.2" y2="862.3" stroke="#3280bd" stroke-width="4.2"/>
<line x1="935.65" y1="793.2" x2="944.75" y2="793.2" stroke="#3280bd" stroke-width="4.1" stroke-linecap="round"/>
<line x1="935.65" y1="862.3" x2="944.75" y2="862.3" stroke="#3280bd" stroke-width="4.1" stroke-linecap="round"/>
<circle cx="940.2" cy="827.7" r="5.8" fill="#3280bd"/>
<line x1="1061.8" y1="731.2" x2="1954.1" y2="731.2" stroke="#e4eef1" stroke-width="1.4"/>
<line x1="1061.8" y1="834.4" x2="1954.1" y2="834.4" stroke="#e4eef1" stroke-width="1.4"/>
<line x1="1061.8" y1="937.6" x2="1954.1" y2="937.6" stroke="#e4eef1" stroke-width="1.4"/>
<line x1="1061.8" y1="1041" x2="1954.1" y2="1041" stroke="#e4eef1" stroke-width="1.4"/>
<line x1="1229" y1="623.3" x2="1229" y2="637.8" stroke="#bdbdbd" stroke-width="2"/>
<line x1="1229" y1="650.57" x2="1229" y2="665.07" stroke="#bdbdbd" stroke-width="2"/>
<line x1="1229" y1="677.84" x2="1229" y2="692.34" stroke="#bdbdbd" stroke-width="2"/>
<line x1="1229" y1="705.11" x2="1229" y2="719.61" stroke="#bdbdbd" stroke-width="2"/>
<line x1="1229" y1="732.38" x2="1229" y2="746.88" stroke="#bdbdbd" stroke-width="2"/>
<line x1="1229" y1="759.65" x2="1229" y2="774.15" stroke="#bdbdbd" stroke-width="2"/>
<line x1="1229" y1="786.92" x2="1229" y2="801.42" stroke="#bdbdbd" stroke-width="2"/>
<line x1="1229" y1="814.19" x2="1229" y2="828.69" stroke="#bdbdbd" stroke-width="2"/>
<line x1="1229" y1="841.46" x2="1229" y2="855.96" stroke="#bdbdbd" stroke-width="2"/>
<line x1="1229" y1="868.73" x2="1229" y2="883.23" stroke="#bdbdbd" stroke-width="2"/>
<line x1="1229" y1="896" x2="1229" y2="910.5" stroke="#bdbdbd" stroke-width="2"/>
<line x1="1229" y1="923.27" x2="1229" y2="937.77" stroke="#bdbdbd" stroke-width="2"/>
<line x1="1229" y1="950.54" x2="1229" y2="965.04" stroke="#bdbdbd" stroke-width="2"/>
<line x1="1229" y1="977.81" x2="1229" y2="992.31" stroke="#bdbdbd" stroke-width="2"/>
<line x1="1229" y1="1005.08" x2="1229" y2="1019.58" stroke="#bdbdbd" stroke-width="2"/>
<line x1="1229" y1="1032.35" x2="1229" y2="1046.85" stroke="#bdbdbd" stroke-width="2"/>
<line x1="1229" y1="1059.62" x2="1229" y2="1074.12" stroke="#bdbdbd" stroke-width="2"/>
<line x1="1414.2" y1="623.3" x2="1414.2" y2="637.8" stroke="#bdbdbd" stroke-width="2"/>
<line x1="1414.2" y1="650.57" x2="1414.2" y2="665.07" stroke="#bdbdbd" stroke-width="2"/>
<line x1="1414.2" y1="677.84" x2="1414.2" y2="692.34" stroke="#bdbdbd" stroke-width="2"/>
<line x1="1414.2" y1="705.11" x2="1414.2" y2="719.61" stroke="#bdbdbd" stroke-width="2"/>
<line x1="1414.2" y1="732.38" x2="1414.2" y2="746.88" stroke="#bdbdbd" stroke-width="2"/>
<line x1="1414.2" y1="759.65" x2="1414.2" y2="774.15" stroke="#bdbdbd" stroke-width="2"/>
<line x1="1414.2" y1="786.92" x2="1414.2" y2="801.42" stroke="#bdbdbd" stroke-width="2"/>
<line x1="1414.2" y1="814.19" x2="1414.2" y2="828.69" stroke="#bdbdbd" stroke-width="2"/>
<line x1="1414.2" y1="841.46" x2="1414.2" y2="855.96" stroke="#bdbdbd" stroke-width="2"/>
<line x1="1414.2" y1="868.73" x2="1414.2" y2="883.23" stroke="#bdbdbd" stroke-width="2"/>
<line x1="1414.2" y1="896" x2="1414.2" y2="910.5" stroke="#bdbdbd" stroke-width="2"/>
<line x1="1414.2" y1="923.27" x2="1414.2" y2="937.77" stroke="#bdbdbd" stroke-width="2"/>
<line x1="1414.2" y1="950.54" x2="1414.2" y2="965.04" stroke="#bdbdbd" stroke-width="2"/>
<line x1="1414.2" y1="977.81" x2="1414.2" y2="992.31" stroke="#bdbdbd" stroke-width="2"/>
<line x1="1414.2" y1="1005.08" x2="1414.2" y2="1019.58" stroke="#bdbdbd" stroke-width="2"/>
<line x1="1414.2" y1="1032.35" x2="1414.2" y2="1046.85" stroke="#bdbdbd" stroke-width="2"/>
<line x1="1414.2" y1="1059.62" x2="1414.2" y2="1074.12" stroke="#bdbdbd" stroke-width="2"/>
<line x1="1599.6" y1="623.3" x2="1599.6" y2="637.8" stroke="#bdbdbd" stroke-width="2"/>
<line x1="1599.6" y1="650.57" x2="1599.6" y2="665.07" stroke="#bdbdbd" stroke-width="2"/>
<line x1="1599.6" y1="677.84" x2="1599.6" y2="692.34" stroke="#bdbdbd" stroke-width="2"/>
<line x1="1599.6" y1="705.11" x2="1599.6" y2="719.61" stroke="#bdbdbd" stroke-width="2"/>
<line x1="1599.6" y1="732.38" x2="1599.6" y2="746.88" stroke="#bdbdbd" stroke-width="2"/>
<line x1="1599.6" y1="759.65" x2="1599.6" y2="774.15" stroke="#bdbdbd" stroke-width="2"/>
<line x1="1599.6" y1="786.92" x2="1599.6" y2="801.42" stroke="#bdbdbd" stroke-width="2"/>
<line x1="1599.6" y1="814.19" x2="1599.6" y2="828.69" stroke="#bdbdbd" stroke-width="2"/>
<line x1="1599.6" y1="841.46" x2="1599.6" y2="855.96" stroke="#bdbdbd" stroke-width="2"/>
<line x1="1599.6" y1="868.73" x2="1599.6" y2="883.23" stroke="#bdbdbd" stroke-width="2"/>
<line x1="1599.6" y1="896" x2="1599.6" y2="910.5" stroke="#bdbdbd" stroke-width="2"/>
<line x1="1599.6" y1="923.27" x2="1599.6" y2="937.77" stroke="#bdbdbd" stroke-width="2"/>
<line x1="1599.6" y1="950.54" x2="1599.6" y2="965.04" stroke="#bdbdbd" stroke-width="2"/>
<line x1="1599.6" y1="977.81" x2="1599.6" y2="992.31" stroke="#bdbdbd" stroke-width="2"/>
<line x1="1599.6" y1="1005.08" x2="1599.6" y2="1019.58" stroke="#bdbdbd" stroke-width="2"/>
<line x1="1599.6" y1="1032.35" x2="1599.6" y2="1046.85" stroke="#bdbdbd" stroke-width="2"/>
<line x1="1599.6" y1="1059.62" x2="1599.6" y2="1074.12" stroke="#bdbdbd" stroke-width="2"/>
<line x1="1785.9" y1="623.3" x2="1785.9" y2="637.8" stroke="#bdbdbd" stroke-width="2"/>
<line x1="1785.9" y1="650.57" x2="1785.9" y2="665.07" stroke="#bdbdbd" stroke-width="2"/>
<line x1="1785.9" y1="677.84" x2="1785.9" y2="692.34" stroke="#bdbdbd" stroke-width="2"/>
<line x1="1785.9" y1="705.11" x2="1785.9" y2="719.61" stroke="#bdbdbd" stroke-width="2"/>
<line x1="1785.9" y1="732.38" x2="1785.9" y2="746.88" stroke="#bdbdbd" stroke-width="2"/>
<line x1="1785.9" y1="759.65" x2="1785.9" y2="774.15" stroke="#bdbdbd" stroke-width="2"/>
<line x1="1785.9" y1="786.92" x2="1785.9" y2="801.42" stroke="#bdbdbd" stroke-width="2"/>
<line x1="1785.9" y1="814.19" x2="1785.9" y2="828.69" stroke="#bdbdbd" stroke-width="2"/>
<line x1="1785.9" y1="841.46" x2="1785.9" y2="855.96" stroke="#bdbdbd" stroke-width="2"/>
<line x1="1785.9" y1="868.73" x2="1785.9" y2="883.23" stroke="#bdbdbd" stroke-width="2"/>
<line x1="1785.9" y1="896" x2="1785.9" y2="910.5" stroke="#bdbdbd" stroke-width="2"/>
<line x1="1785.9" y1="923.27" x2="1785.9" y2="937.77" stroke="#bdbdbd" stroke-width="2"/>
<line x1="1785.9" y1="950.54" x2="1785.9" y2="965.04" stroke="#bdbdbd" stroke-width="2"/>
<line x1="1785.9" y1="977.81" x2="1785.9" y2="992.31" stroke="#bdbdbd" stroke-width="2"/>
<line x1="1785.9" y1="1005.08" x2="1785.9" y2="1019.58" stroke="#bdbdbd" stroke-width="2"/>
<line x1="1785.9" y1="1032.35" x2="1785.9" y2="1046.85" stroke="#bdbdbd" stroke-width="2"/>
<line x1="1785.9" y1="1059.62" x2="1785.9" y2="1074.12" stroke="#bdbdbd" stroke-width="2"/>
<rect x="1067.4" y="620" width="147.4" height="71" fill="#fff"/>
<circle cx="1081.4" cy="641.5" r="6" fill="#fc8381"/>
<circle cx="1081.4" cy="669.6" r="6" fill="#3280bd"/>
<text x="1093" y="649.3" font-size="21" text-anchor="start" fill="#222" stroke="#222" stroke-width="0.3">Poverty</text>
<text x="1093" y="677.3" font-size="21" text-anchor="start" fill="#222" stroke="#222" stroke-width="0.3">Non_poverty</text>
<line x1="1061" y1="615.5" x2="1061" y2="1075.2" stroke="#000" stroke-width="1.7"/>
<line x1="1060.2" y1="1074.4" x2="1954.1" y2="1074.4" stroke="#000" stroke-width="1.7"/>
<line x1="1051.9" y1="628.2" x2="1061" y2="628.2" stroke="#000" stroke-width="1.6"/>
<text transform="translate(1042,628.2) rotate(-90)" font-size="22.3" text-anchor="middle" fill="#000" stroke="#000" stroke-width="0.3">.2</text>
<line x1="1051.9" y1="731.2" x2="1061" y2="731.2" stroke="#000" stroke-width="1.6"/>
<text transform="translate(1042,731.2) rotate(-90)" font-size="22.3" text-anchor="middle" fill="#000" stroke="#000" stroke-width="0.3">.15</text>
<line x1="1051.9" y1="834.4" x2="1061" y2="834.4" stroke="#000" stroke-width="1.6"/>
<text transform="translate(1042,834.4) rotate(-90)" font-size="22.3" text-anchor="middle" fill="#000" stroke="#000" stroke-width="0.3">.1</text>
<line x1="1051.9" y1="937.6" x2="1061" y2="937.6" stroke="#000" stroke-width="1.6"/>
<text transform="translate(1042,937.6) rotate(-90)" font-size="22.3" text-anchor="middle" fill="#000" stroke="#000" stroke-width="0.3">.05</text>
<line x1="1051.9" y1="1041" x2="1061" y2="1041" stroke="#000" stroke-width="1.6"/>
<text transform="translate(1042,1041) rotate(-90)" font-size="22.3" text-anchor="middle" fill="#000" stroke="#000" stroke-width="0.3">0</text>
<line x1="1088.9" y1="1074.4" x2="1088.9" y2="1082.4" stroke="#000" stroke-width="1.6"/>
<text x="1088.9" y="1101.8" font-size="21.2" text-anchor="middle" fill="#000" stroke="#000" stroke-width="0.3">Unplanned</text>
<line x1="1181.75" y1="1074.4" x2="1181.75" y2="1082.4" stroke="#000" stroke-width="1.6"/>
<text x="1181.75" y="1101.8" font-size="21.2" text-anchor="middle" fill="#000" stroke="#000" stroke-width="0.3">Planned</text>
<line x1="1274.6" y1="1074.4" x2="1274.6" y2="1082.4" stroke="#000" stroke-width="1.6"/>
<text x="1274.6" y="1101.8" font-size="21.2" text-anchor="middle" fill="#000" stroke="#000" stroke-width="0.3">6h-</text>
<line x1="1367.45" y1="1074.4" x2="1367.45" y2="1082.4" stroke="#000" stroke-width="1.6"/>
<text x="1367.45" y="1101.8" font-size="21.2" text-anchor="middle" fill="#000" stroke="#000" stroke-width="0.3">6h+</text>
<line x1="1460.3" y1="1074.4" x2="1460.3" y2="1082.4" stroke="#000" stroke-width="1.6"/>
<text x="1460.3" y="1101.8" font-size="21.2" text-anchor="middle" fill="#000" stroke="#000" stroke-width="0.3">North</text>
<line x1="1553.15" y1="1074.4" x2="1553.15" y2="1082.4" stroke="#000" stroke-width="1.6"/>
<text x="1553.15" y="1101.8" font-size="21.2" text-anchor="middle" fill="#000" stroke="#000" stroke-width="0.3">South</text>
<line x1="1646" y1="1074.4" x2="1646" y2="1082.4" stroke="#000" stroke-width="1.6"/>
<text x="1646" y="1101.8" font-size="21.2" text-anchor="middle" fill="#000" stroke="#000" stroke-width="0.3">Summer</text>
<line x1="1738.85" y1="1074.4" x2="1738.85" y2="1082.4" stroke="#000" stroke-width="1.6"/>
<text x="1738.85" y="1101.8" font-size="21.2" text-anchor="middle" fill="#000" stroke="#000" stroke-width="0.3">Winter</text>
<line x1="1831.7" y1="1074.4" x2="1831.7" y2="1082.4" stroke="#000" stroke-width="1.6"/>
<text x="1831.7" y="1101.8" font-size="21.2" text-anchor="middle" fill="#000" stroke="#000" stroke-width="0.3">0-10</text>
<line x1="1924.55" y1="1074.4" x2="1924.55" y2="1082.4" stroke="#000" stroke-width="1.6"/>
<text x="1924.55" y="1101.8" font-size="21.2" text-anchor="middle" fill="#000" stroke="#000" stroke-width="0.3">&gt;10</text>
<text transform="translate(1017.9,845) rotate(-90)" font-size="24.6" text-anchor="middle" fill="#000" stroke="#000" stroke-width="0.3">Estimation</text>
<text x="1062.6" y="602.2" font-size="30.5" text-anchor="start" fill="#1a2a56" stroke="#1a2a56" stroke-width="0.3">(d)Outage duration(Heterogeneity)</text>
<line x1="1074" y1="817.8" x2="1074" y2="898.7" stroke="#fc8381" stroke-width="4.2"/>
<line x1="1069.45" y1="817.8" x2="1078.55" y2="817.8" stroke="#fc8381" stroke-width="4.1" stroke-linecap="round"/>
<line x1="1069.45" y1="898.7" x2="1078.55" y2="898.7" stroke="#fc8381" stroke-width="4.1" stroke-linecap="round"/>
<circle cx="1074" cy="858.7" r="5.8" fill="#fc8381"/>
<line x1="1104.7" y1="919.2" x2="1104.7" y2="947.3" stroke="#3280bd" stroke-width="4.2"/>
<line x1="1100.15" y1="919.2" x2="1109.25" y2="919.2" stroke="#3280bd" stroke-width="4.1" stroke-linecap="round"/>
<line x1="1100.15" y1="947.3" x2="1109.25" y2="947.3" stroke="#3280bd" stroke-width="4.1" stroke-linecap="round"/>
<circle cx="1104.7" cy="933.2" r="5.8" fill="#3280bd"/>
<line x1="1166.8" y1="935" x2="1166.8" y2="1051.2" stroke="#fc8381" stroke-width="4.2"/>
<line x1="1162.25" y1="935" x2="1171.35" y2="935" stroke="#fc8381" stroke-width="4.1" stroke-linecap="round"/>
<line x1="1162.25" y1="1051.2" x2="1171.35" y2="1051.2" stroke="#fc8381" stroke-width="4.1" stroke-linecap="round"/>
<circle cx="1166.8" cy="993.2" r="5.8" fill="#fc8381"/>
<line x1="1197.4" y1="988.9" x2="1197.4" y2="1031.5" stroke="#3280bd" stroke-width="4.2"/>
<line x1="1192.85" y1="988.9" x2="1201.95" y2="988.9" stroke="#3280bd" stroke-width="4.1" stroke-linecap="round"/>
<line x1="1192.85" y1="1031.5" x2="1201.95" y2="1031.5" stroke="#3280bd" stroke-width="4.1" stroke-linecap="round"/>
<circle cx="1197.4" cy="1010.3" r="5.8" fill="#3280bd"/>
<line x1="1259.7" y1="949.3" x2="1259.7" y2="1001.7" stroke="#fc8381" stroke-width="4.2"/>
<line x1="1255.15" y1="949.3" x2="1264.25" y2="949.3" stroke="#fc8381" stroke-width="4.1" stroke-linecap="round"/>
<line x1="1255.15" y1="1001.7" x2="1264.25" y2="1001.7" stroke="#fc8381" stroke-width="4.1" stroke-linecap="round"/>
<circle cx="1259.7" cy="975.9" r="5.8" fill="#fc8381"/>
<line x1="1290.6" y1="981.2" x2="1290.6" y2="1002.7" stroke="#3280bd" stroke-width="4.2"/>
<line x1="1286.05" y1="981.2" x2="1295.15" y2="981.2" stroke="#3280bd" stroke-width="4.1" stroke-linecap="round"/>
<line x1="1286.05" y1="1002.7" x2="1295.15" y2="1002.7" stroke="#3280bd" stroke-width="4.1" stroke-linecap="round"/>
<circle cx="1290.6" cy="992" r="5.8" fill="#3280bd"/>
<line x1="1352.4" y1="817.5" x2="1352.4" y2="942.2" stroke="#fc8381" stroke-width="4.2"/>
<line x1="1347.85" y1="817.5" x2="1356.95" y2="817.5" stroke="#fc8381" stroke-width="4.1" stroke-linecap="round"/>
<line x1="1347.85" y1="942.2" x2="1356.95" y2="942.2" stroke="#fc8381" stroke-width="4.1" stroke-linecap="round"/>
<circle cx="1352.4" cy="880.1" r="5.8" fill="#fc8381"/>
<line x1="1383.6" y1="919.9" x2="1383.6" y2="968.5" stroke="#3280bd" stroke-width="4.2"/>
<line x1="1379.05" y1="919.9" x2="1388.15" y2="919.9" stroke="#3280bd" stroke-width="4.1" stroke-linecap="round"/>
<line x1="1379.05" y1="968.5" x2="1388.15" y2="968.5" stroke="#3280bd" stroke-width="4.1" stroke-linecap="round"/>
<circle cx="1383.6" cy="944.2" r="5.8" fill="#3280bd"/>
<line x1="1445.1" y1="872.7" x2="1445.1" y2="1013.2" stroke="#fc8381" stroke-width="4.2"/>
<line x1="1440.55" y1="872.7" x2="1449.65" y2="872.7" stroke="#fc8381" stroke-width="4.1" stroke-linecap="round"/>
<line x1="1440.55" y1="1013.2" x2="1449.65" y2="1013.2" stroke="#fc8381" stroke-width="4.1" stroke-linecap="round"/>
<circle cx="1445.1" cy="943.1" r="5.8" fill="#fc8381"/>
<line x1="1476.2" y1="1002.4" x2="1476.2" y2="1061.3" stroke="#3280bd" stroke-width="4.2"/>
<line x1="1471.65" y1="1002.4" x2="1480.75" y2="1002.4" stroke="#3280bd" stroke-width="4.1" stroke-linecap="round"/>
<line x1="1471.65" y1="1061.3" x2="1480.75" y2="1061.3" stroke="#3280bd" stroke-width="4.1" stroke-linecap="round"/>
<circle cx="1476.2" cy="1032" r="5.8" fill="#3280bd"/>
<line x1="1538" y1="699.5" x2="1538" y2="895.4" stroke="#fc8381" stroke-width="4.2"/>
<line x1="1533.45" y1="699.5" x2="1542.55" y2="699.5" stroke="#fc8381" stroke-width="4.1" stroke-linecap="round"/>
<line x1="1533.45" y1="895.4" x2="1542.55" y2="895.4" stroke="#fc8381" stroke-width="4.1" stroke-linecap="round"/>
<circle cx="1538" cy="797.7" r="5.8" fill="#fc8381"/>
<line x1="1568.7" y1="851.2" x2="1568.7" y2="914.9" stroke="#3280bd" stroke-width="4.2"/>
<line x1="1564.15" y1="851.2" x2="1573.25" y2="851.2" stroke="#3280bd" stroke-width="4.1" stroke-linecap="round"/>
<line x1="1564.15" y1="914.9" x2="1573.25" y2="914.9" stroke="#3280bd" stroke-width="4.1" stroke-linecap="round"/>
<circle cx="1568.7" cy="882.8" r="5.8" fill="#3280bd"/>
<line x1="1630.9" y1="748.2" x2="1630.9" y2="916.4" stroke="#fc8381" stroke-width="4.2"/>
<line x1="1626.35" y1="748.2" x2="1635.45" y2="748.2" stroke="#fc8381" stroke-width="4.1" stroke-linecap="round"/>
<line x1="1626.35" y1="916.4" x2="1635.45" y2="916.4" stroke="#fc8381" stroke-width="4.1" stroke-linecap="round"/>
<circle cx="1630.9" cy="832.3" r="5.8" fill="#fc8381"/>
<line x1="1661.8" y1="896.9" x2="1661.8" y2="956.3" stroke="#3280bd" stroke-width="4.2"/>
<line x1="1657.25" y1="896.9" x2="1666.35" y2="896.9" stroke="#3280bd" stroke-width="4.1" stroke-linecap="round"/>
<line x1="1657.25" y1="956.3" x2="1666.35" y2="956.3" stroke="#3280bd" stroke-width="4.1" stroke-linecap="round"/>
<circle cx="1661.8" cy="926.3" r="5.8" fill="#3280bd"/>
<line x1="1723.7" y1="869" x2="1723.7" y2="1017.9" stroke="#fc8381" stroke-width="4.2"/>
<line x1="1719.15" y1="869" x2="1728.25" y2="869" stroke="#fc8381" stroke-width="4.1" stroke-linecap="round"/>
<line x1="1719.15" y1="1017.9" x2="1728.25" y2="1017.9" stroke="#fc8381" stroke-width="4.1" stroke-linecap="round"/>
<circle cx="1723.7" cy="943.4" r="5.8" fill="#fc8381"/>
<line x1="1754.3" y1="936.8" x2="1754.3" y2="999.6" stroke="#3280bd" stroke-width="4.2"/>
<line x1="1749.75" y1="936.8" x2="1758.85" y2="936.8" stroke="#3280bd" stroke-width="4.1" stroke-linecap="round"/>
<line x1="1749.75" y1="999.6" x2="1758.85" y2="999.6" stroke="#3280bd" stroke-width="4.1" stroke-linecap="round"/>
<circle cx="1754.3" cy="968.1" r="5.8" fill="#3280bd"/>
<line x1="1816.5" y1="766.8" x2="1816.5" y2="953.9" stroke="#fc8381" stroke-width="4.2"/>
<line x1="1811.95" y1="766.8" x2="1821.05" y2="766.8" stroke="#fc8381" stroke-width="4.1" stroke-linecap="round"/>
<line x1="1811.95" y1="953.9" x2="1821.05" y2="953.9" stroke="#fc8381" stroke-width="4.1" stroke-linecap="round"/>
<circle cx="1816.5" cy="860.2" r="5.8" fill="#fc8381"/>
<line x1="1847.2" y1="970.5" x2="1847.2" y2="1053.1" stroke="#3280bd" stroke-width="4.2"/>
<line x1="1842.65" y1="970.5" x2="1851.75" y2="970.5" stroke="#3280bd" stroke-width="4.1" stroke-linecap="round"/>
<line x1="1842.65" y1="1053.1" x2="1851.75" y2="1053.1" stroke="#3280bd" stroke-width="4.1" stroke-linecap="round"/>
<circle cx="1847.2" cy="1011.6" r="5.8" fill="#3280bd"/>
<line x1="1909.6" y1="776.7" x2="1909.6" y2="941.6" stroke="#fc8381" stroke-width="4.2"/>
<line x1="1905.05" y1="776.7" x2="1914.15" y2="776.7" stroke="#fc8381" stroke-width="4.1" stroke-linecap="round"/>
<line x1="1905.05" y1="941.6" x2="1914.15" y2="941.6" stroke="#fc8381" stroke-width="4.1" stroke-linecap="round"/>
<circle cx="1909.6" cy="859.3" r="5.8" fill="#fc8381"/>
<line x1="1940.6" y1="892.4" x2="1940.6" y2="945.8" stroke="#3280bd" stroke-width="4.2"/>
<line x1="1936.05" y1="892.4" x2="1945.15" y2="892.4" stroke="#3280bd" stroke-width="4.1" stroke-linecap="round"/>
<line x1="1936.05" y1="945.8" x2="1945.15" y2="945.8" stroke="#3280bd" stroke-width="4.1" stroke-linecap="round"/>
<circle cx="1940.6" cy="918.8" r="5.8" fill="#3280bd"/>
<line x1="66.9" y1="1204.8" x2="799" y2="1204.8" stroke="#dde9ed" stroke-width="1.4"/>
<line x1="66.9" y1="1293.8" x2="799" y2="1293.8" stroke="#dde9ed" stroke-width="1.4"/>
<line x1="66.9" y1="1382.8" x2="799" y2="1382.8" stroke="#dde9ed" stroke-width="1.4"/>
<line x1="66.9" y1="1471.8" x2="799" y2="1471.8" stroke="#dde9ed" stroke-width="1.4"/>
<line x1="66.9" y1="1560.8" x2="799" y2="1560.8" stroke="#dde9ed" stroke-width="1.4"/>
<rect x="91.35" y="1633.79" width="17" height="15.36" fill="rgba(87,151,201,0.5)" stroke="rgba(87,151,201,0.75)" stroke-width="1.1"/>
<rect x="91.35" y="1369.52" width="17" height="263.17" fill="rgba(171,209,231,0.5)" stroke="rgba(171,209,231,0.7)" stroke-width="1.1"/>
<rect x="91.35" y="1351.72" width="17" height="16.7" fill="rgba(223,235,247,0.5)" stroke="rgba(223,235,247,0.7)" stroke-width="1.1"/>
<rect x="91.35" y="1327.7" width="17" height="22.92" fill="rgba(245,185,161,0.5)" stroke="rgba(245,185,161,0.75)" stroke-width="1.1"/>
<rect x="91.35" y="1327.25" width="17" height="0.1" fill="rgba(253,155,157,0.5)" stroke="rgba(253,155,157,0.75)" stroke-width="1.1"/>
<rect x="91.35" y="1205.35" width="17" height="120.8" fill="rgba(229,103,107,0.5)" stroke="rgba(226,86,93,0.8)" stroke-width="1.1"/>
<text x="99.85" y="1673.5" font-size="22.4" text-anchor="middle" fill="#000" stroke="#000" stroke-width="0.3">0</text>
<rect x="111.95" y="1619.55" width="17" height="29.6" fill="rgba(87,151,201,0.5)" stroke="rgba(87,151,201,0.75)" stroke-width="1.1"/>
<rect x="111.95" y="1316.58" width="17" height="301.88" fill="rgba(171,209,231,0.5)" stroke="rgba(171,209,231,0.7)" stroke-width="1.1"/>
<rect x="111.95" y="1278.31" width="17" height="37.16" fill="rgba(223,235,247,0.5)" stroke="rgba(223,235,247,0.7)" stroke-width="1.1"/>
<rect x="111.95" y="1248.06" width="17" height="29.15" fill="rgba(245,185,161,0.5)" stroke="rgba(245,185,161,0.75)" stroke-width="1.1"/>
<rect x="111.95" y="1247.62" width="17" height="0.1" fill="rgba(253,155,157,0.5)" stroke="rgba(253,155,157,0.75)" stroke-width="1.1"/>
<rect x="111.95" y="1205.35" width="17" height="41.17" fill="rgba(229,103,107,0.5)" stroke="rgba(226,86,93,0.8)" stroke-width="1.1"/>
<text x="120.45" y="1673.5" font-size="22.4" text-anchor="middle" fill="#000" stroke="#000" stroke-width="0.3">1</text>
<text x="110.1" y="1693.9" font-size="16.6" text-anchor="middle" fill="#000" stroke="#000" stroke-width="0.3">Unplanned</text>
<rect x="162.97" y="1635.79" width="17" height="13.36" fill="rgba(87,151,201,0.5)" stroke="rgba(87,151,201,0.75)" stroke-width="1.1"/>
<rect x="162.97" y="1498.54" width="17" height="136.15" fill="rgba(223,235,247,0.5)" stroke="rgba(223,235,247,0.7)" stroke-width="1.1"/>
<rect x="162.97" y="1469.62" width="17" height="27.82" fill="rgba(245,185,161,0.5)" stroke="rgba(245,185,161,0.75)" stroke-width="1.1"/>
<rect x="162.97" y="1457.61" width="17" height="10.91" fill="rgba(253,155,157,0.5)" stroke="rgba(253,155,157,0.75)" stroke-width="1.1"/>
<rect x="162.97" y="1205.35" width="17" height="251.16" fill="rgba(229,103,107,0.5)" stroke="rgba(226,86,93,0.8)" stroke-width="1.1"/>
<text x="171.47" y="1673.5" font-size="22.4" text-anchor="middle" fill="#000" stroke="#000" stroke-width="0.3">0</text>
<rect x="183.57" y="1368.18" width="17" height="280.97" fill="rgba(87,151,201,0.5)" stroke="rgba(87,151,201,0.75)" stroke-width="1.1"/>
<rect x="183.57" y="1364.18" width="17" height="2.9" fill="rgba(171,209,231,0.5)" stroke="rgba(171,209,231,0.7)" stroke-width="1.1"/>
<rect x="183.57" y="1297" width="17" height="66.08" fill="rgba(223,235,247,0.5)" stroke="rgba(223,235,247,0.7)" stroke-width="1.1"/>
<rect x="183.57" y="1229.37" width="17" height="66.52" fill="rgba(245,185,161,0.5)" stroke="rgba(245,185,161,0.75)" stroke-width="1.1"/>
<rect x="183.57" y="1206.68" width="17" height="21.59" fill="rgba(253,155,157,0.5)" stroke="rgba(253,155,157,0.75)" stroke-width="1.1"/>
<rect x="183.57" y="1205.35" width="17" height="0.23" fill="rgba(229,103,107,0.5)" stroke="rgba(226,86,93,0.8)" stroke-width="1.1"/>
<text x="192.07" y="1673.5" font-size="22.4" text-anchor="middle" fill="#000" stroke="#000" stroke-width="0.3">1</text>
<text x="181.72" y="1693.9" font-size="16.6" text-anchor="middle" fill="#000" stroke="#000" stroke-width="0.3">Planned</text>
<rect x="234.59" y="1636.01" width="17" height="13.14" fill="rgba(87,151,201,0.5)" stroke="rgba(87,151,201,0.75)" stroke-width="1.1"/>
<rect x="234.59" y="1538.14" width="17" height="96.78" fill="rgba(171,209,231,0.5)" stroke="rgba(171,209,231,0.7)" stroke-width="1.1"/>
<rect x="234.59" y="1462.95" width="17" height="74.09" fill="rgba(223,235,247,0.5)" stroke="rgba(223,235,247,0.7)" stroke-width="1.1"/>
<rect x="234.59" y="1439.81" width="17" height="22.03" fill="rgba(245,185,161,0.5)" stroke="rgba(245,185,161,0.75)" stroke-width="1.1"/>
<rect x="234.59" y="1439.37" width="17" height="0.1" fill="rgba(253,155,157,0.5)" stroke="rgba(253,155,157,0.75)" stroke-width="1.1"/>
<rect x="234.59" y="1205.35" width="17" height="232.92" fill="rgba(229,103,107,0.5)" stroke="rgba(226,86,93,0.8)" stroke-width="1.1"/>
<text x="243.09" y="1673.5" font-size="22.4" text-anchor="middle" fill="#000" stroke="#000" stroke-width="0.3">0</text>
<rect x="255.19" y="1518.56" width="17" height="130.59" fill="rgba(87,151,201,0.5)" stroke="rgba(87,151,201,0.75)" stroke-width="1.1"/>
<rect x="255.19" y="1369.52" width="17" height="147.94" fill="rgba(171,209,231,0.5)" stroke="rgba(171,209,231,0.7)" stroke-width="1.1"/>
<rect x="255.19" y="1270.75" width="17" height="97.67" fill="rgba(223,235,247,0.5)" stroke="rgba(223,235,247,0.7)" stroke-width="1.1"/>
<rect x="255.19" y="1251.17" width="17" height="18.48" fill="rgba(245,185,161,0.5)" stroke="rgba(245,185,161,0.75)" stroke-width="1.1"/>
<rect x="255.19" y="1248.51" width="17" height="1.57" fill="rgba(253,155,157,0.5)" stroke="rgba(253,155,157,0.75)" stroke-width="1.1"/>
<rect x="255.19" y="1205.35" width="17" height="42.06" fill="rgba(229,103,107,0.5)" stroke="rgba(226,86,93,0.8)" stroke-width="1.1"/>
<text x="263.69" y="1673.5" font-size="22.4" text-anchor="middle" fill="#000" stroke="#000" stroke-width="0.3">1</text>
<text x="253.34" y="1693.9" font-size="16.6" text-anchor="middle" fill="#000" stroke="#000" stroke-width="0.3">6h-</text>
<rect x="306.21" y="1624" width="17" height="25.15" fill="rgba(87,151,201,0.5)" stroke="rgba(87,151,201,0.75)" stroke-width="1.1"/>
<rect x="306.21" y="1352.61" width="17" height="270.29" fill="rgba(171,209,231,0.5)" stroke="rgba(171,209,231,0.7)" stroke-width="1.1"/>
<rect x="306.21" y="1336.15" width="17" height="15.36" fill="rgba(223,235,247,0.5)" stroke="rgba(223,235,247,0.7)" stroke-width="1.1"/>
<rect x="306.21" y="1319.69" width="17" height="15.36" fill="rgba(245,185,161,0.5)" stroke="rgba(245,185,161,0.75)" stroke-width="1.1"/>
<rect x="306.21" y="1205.35" width="17" height="113.24" fill="rgba(229,103,107,0.5)" stroke="rgba(226,86,93,0.8)" stroke-width="1.1"/>
<text x="314.71" y="1673.5" font-size="22.4" text-anchor="middle" fill="#000" stroke="#000" stroke-width="0.3">0</text>
<rect x="326.81" y="1579.96" width="17" height="69.19" fill="rgba(87,151,201,0.5)" stroke="rgba(87,151,201,0.75)" stroke-width="1.1"/>
<rect x="326.81" y="1323.25" width="17" height="255.61" fill="rgba(171,209,231,0.5)" stroke="rgba(171,209,231,0.7)" stroke-width="1.1"/>
<rect x="326.81" y="1291.66" width="17" height="30.49" fill="rgba(223,235,247,0.5)" stroke="rgba(223,235,247,0.7)" stroke-width="1.1"/>
<rect x="326.81" y="1229.37" width="17" height="61.19" fill="rgba(245,185,161,0.5)" stroke="rgba(245,185,161,0.75)" stroke-width="1.1"/>
<rect x="326.81" y="1228.93" width="17" height="0.1" fill="rgba(253,155,157,0.5)" stroke="rgba(253,155,157,0.75)" stroke-width="1.1"/>
<rect x="326.81" y="1205.35" width="17" height="22.48" fill="rgba(229,103,107,0.5)" stroke="rgba(226,86,93,0.8)" stroke-width="1.1"/>
<text x="335.31" y="1673.5" font-size="22.4" text-anchor="middle" fill="#000" stroke="#000" stroke-width="0.3">1</text>
<text x="324.96" y="1693.9" font-size="16.6" text-anchor="middle" fill="#000" stroke="#000" stroke-width="0.3">6h+</text>
<rect x="377.83" y="1536.36" width="17" height="112.79" fill="rgba(87,151,201,0.5)" stroke="rgba(87,151,201,0.75)" stroke-width="1.1"/>
<rect x="377.83" y="1518.56" width="17" height="16.7" fill="rgba(171,209,231,0.5)" stroke="rgba(171,209,231,0.7)" stroke-width="1.1"/>
<rect x="377.83" y="1490.09" width="17" height="27.37" fill="rgba(223,235,247,0.5)" stroke="rgba(223,235,247,0.7)" stroke-width="1.1"/>
<rect x="377.83" y="1489.64" width="17" height="0.1" fill="rgba(245,185,161,0.5)" stroke="rgba(245,185,161,0.75)" stroke-width="1.1"/>
<rect x="377.83" y="1476.29" width="17" height="12.25" fill="rgba(253,155,157,0.5)" stroke="rgba(253,155,157,0.75)" stroke-width="1.1"/>
<rect x="377.83" y="1205.35" width="17" height="269.84" fill="rgba(229,103,107,0.5)" stroke="rgba(226,86,93,0.8)" stroke-width="1.1"/>
<text x="386.33" y="1673.5" font-size="22.4" text-anchor="middle" fill="#000" stroke="#000" stroke-width="0.3">0</text>
<rect x="398.43" y="1364.62" width="17" height="284.53" fill="rgba(87,151,201,0.5)" stroke="rgba(87,151,201,0.75)" stroke-width="1.1"/>
<rect x="398.43" y="1283.65" width="17" height="79.87" fill="rgba(171,209,231,0.5)" stroke="rgba(171,209,231,0.7)" stroke-width="1.1"/>
<rect x="398.43" y="1215.14" width="17" height="67.41" fill="rgba(223,235,247,0.5)" stroke="rgba(223,235,247,0.7)" stroke-width="1.1"/>
<rect x="398.43" y="1211.13" width="17" height="2.9" fill="rgba(245,185,161,0.5)" stroke="rgba(245,185,161,0.75)" stroke-width="1.1"/>
<rect x="398.43" y="1209.35" width="17" height="0.68" fill="rgba(253,155,157,0.5)" stroke="rgba(253,155,157,0.75)" stroke-width="1.1"/>
<rect x="398.43" y="1205.35" width="17" height="2.9" fill="rgba(229,103,107,0.5)" stroke="rgba(226,86,93,0.8)" stroke-width="1.1"/>
<text x="406.93" y="1673.5" font-size="22.4" text-anchor="middle" fill="#000" stroke="#000" stroke-width="0.3">1</text>
<text x="396.58" y="1693.9" font-size="16.6" text-anchor="middle" fill="#000" stroke="#000" stroke-width="0.3">North</text>
<rect x="449.45" y="1648.03" width="17" height="1.12" fill="rgba(87,151,201,0.5)" stroke="rgba(87,151,201,0.75)" stroke-width="1.1"/>
<rect x="449.45" y="1476.74" width="17" height="170.19" fill="rgba(171,209,231,0.5)" stroke="rgba(171,209,231,0.7)" stroke-width="1.1"/>
<rect x="449.45" y="1417.57" width="17" height="58.07" fill="rgba(223,235,247,0.5)" stroke="rgba(223,235,247,0.7)" stroke-width="1.1"/>
<rect x="449.45" y="1398.88" width="17" height="17.59" fill="rgba(245,185,161,0.5)" stroke="rgba(245,185,161,0.75)" stroke-width="1.1"/>
<rect x="449.45" y="1392.21" width="17" height="5.57" fill="rgba(253,155,157,0.5)" stroke="rgba(253,155,157,0.75)" stroke-width="1.1"/>
<rect x="449.45" y="1205.35" width="17" height="185.76" fill="rgba(229,103,107,0.5)" stroke="rgba(226,86,93,0.8)" stroke-width="1.1"/>
<text x="457.95" y="1673.5" font-size="22.4" text-anchor="middle" fill="#000" stroke="#000" stroke-width="0.3">0</text>
<rect x="470.05" y="1643.13" width="17" height="6.02" fill="rgba(87,151,201,0.5)" stroke="rgba(87,151,201,0.75)" stroke-width="1.1"/>
<rect x="470.05" y="1395.77" width="17" height="246.26" fill="rgba(171,209,231,0.5)" stroke="rgba(171,209,231,0.7)" stroke-width="1.1"/>
<rect x="470.05" y="1327.7" width="17" height="66.97" fill="rgba(223,235,247,0.5)" stroke="rgba(223,235,247,0.7)" stroke-width="1.1"/>
<rect x="470.05" y="1266.75" width="17" height="59.85" fill="rgba(245,185,161,0.5)" stroke="rgba(245,185,161,0.75)" stroke-width="1.1"/>
<rect x="470.05" y="1264.08" width="17" height="1.57" fill="rgba(253,155,157,0.5)" stroke="rgba(253,155,157,0.75)" stroke-width="1.1"/>
<rect x="470.05" y="1205.35" width="17" height="57.63" fill="rgba(229,103,107,0.5)" stroke="rgba(226,86,93,0.8)" stroke-width="1.1"/>
<text x="478.55" y="1673.5" font-size="22.4" text-anchor="middle" fill="#000" stroke="#000" stroke-width="0.3">1</text>
<text x="468.2" y="1693.9" font-size="16.6" text-anchor="middle" fill="#000" stroke="#000" stroke-width="0.3">South</text>
<rect x="521.07" y="1618.44" width="17" height="30.71" fill="rgba(87,151,201,0.5)" stroke="rgba(87,151,201,0.75)" stroke-width="1.1"/>
<rect x="521.07" y="1423.35" width="17" height="193.99" fill="rgba(171,209,231,0.5)" stroke="rgba(171,209,231,0.7)" stroke-width="1.1"/>
<rect x="521.07" y="1371.3" width="17" height="50.95" fill="rgba(245,185,161,0.5)" stroke="rgba(245,185,161,0.75)" stroke-width="1.1"/>
<rect x="521.07" y="1205.35" width="17" height="164.85" fill="rgba(229,103,107,0.5)" stroke="rgba(226,86,93,0.8)" stroke-width="1.1"/>
<text x="529.57" y="1673.5" font-size="22.4" text-anchor="middle" fill="#000" stroke="#000" stroke-width="0.3">0</text>
<rect x="541.67" y="1547.48" width="17" height="101.67" fill="rgba(87,151,201,0.5)" stroke="rgba(87,151,201,0.75)" stroke-width="1.1"/>
<rect x="541.67" y="1332.59" width="17" height="213.79" fill="rgba(171,209,231,0.5)" stroke="rgba(171,209,231,0.7)" stroke-width="1.1"/>
<rect x="541.67" y="1249.84" width="17" height="81.65" fill="rgba(245,185,161,0.5)" stroke="rgba(245,185,161,0.75)" stroke-width="1.1"/>
<rect x="541.67" y="1240.5" width="17" height="8.24" fill="rgba(253,155,157,0.5)" stroke="rgba(253,155,157,0.75)" stroke-width="1.1"/>
<rect x="541.67" y="1205.35" width="17" height="34.05" fill="rgba(229,103,107,0.5)" stroke="rgba(226,86,93,0.8)" stroke-width="1.1"/>
<text x="550.17" y="1673.5" font-size="22.4" text-anchor="middle" fill="#000" stroke="#000" stroke-width="0.3">1</text>
<text x="539.82" y="1693.9" font-size="16.6" text-anchor="middle" fill="#000" stroke="#000" stroke-width="0.3">Summer</text>
<rect x="592.69" y="1620" width="17" height="29.15" fill="rgba(87,151,201,0.5)" stroke="rgba(87,151,201,0.75)" stroke-width="1.1"/>
<rect x="592.69" y="1616.44" width="17" height="2.46" fill="rgba(171,209,231,0.5)" stroke="rgba(171,209,231,0.7)" stroke-width="1.1"/>
<rect x="592.69" y="1301" width="17" height="314.33" fill="rgba(223,235,247,0.5)" stroke="rgba(223,235,247,0.7)" stroke-width="1.1"/>
<rect x="592.69" y="1215.58" width="17" height="84.32" fill="rgba(245,185,161,0.5)" stroke="rgba(245,185,161,0.75)" stroke-width="1.1"/>
<rect x="592.69" y="1212.47" width="17" height="2.01" fill="rgba(253,155,157,0.5)" stroke="rgba(253,155,157,0.75)" stroke-width="1.1"/>
<rect x="592.69" y="1205.35" width="17" height="6.02" fill="rgba(229,103,107,0.5)" stroke="rgba(226,86,93,0.8)" stroke-width="1.1"/>
<text x="601.19" y="1673.5" font-size="22.4" text-anchor="middle" fill="#000" stroke="#000" stroke-width="0.3">0</text>
<rect x="613.29" y="1616.22" width="17" height="32.93" fill="rgba(87,151,201,0.5)" stroke="rgba(87,151,201,0.75)" stroke-width="1.1"/>
<rect x="613.29" y="1594.64" width="17" height="20.48" fill="rgba(171,209,231,0.5)" stroke="rgba(171,209,231,0.7)" stroke-width="1.1"/>
<rect x="613.29" y="1237.83" width="17" height="355.71" fill="rgba(223,235,247,0.5)" stroke="rgba(223,235,247,0.7)" stroke-width="1.1"/>
<rect x="613.29" y="1206.68" width="17" height="30.04" fill="rgba(245,185,161,0.5)" stroke="rgba(245,185,161,0.75)" stroke-width="1.1"/>
<rect x="613.29" y="1205.35" width="17" height="0.23" fill="rgba(253,155,157,0.5)" stroke="rgba(253,155,157,0.75)" stroke-width="1.1"/>
<text x="621.79" y="1673.5" font-size="22.4" text-anchor="middle" fill="#000" stroke="#000" stroke-width="0.3">1</text>
<text x="611.44" y="1693.9" font-size="16.6" text-anchor="middle" fill="#000" stroke="#000" stroke-width="0.3">Winter</text>
<rect x="664.31" y="1552.59" width="17" height="96.56" fill="rgba(87,151,201,0.5)" stroke="rgba(87,151,201,0.75)" stroke-width="1.1"/>
<rect x="664.31" y="1543.47" width="17" height="8.02" fill="rgba(171,209,231,0.5)" stroke="rgba(171,209,231,0.7)" stroke-width="1.1"/>
<rect x="664.31" y="1435.81" width="17" height="106.57" fill="rgba(223,235,247,0.5)" stroke="rgba(223,235,247,0.7)" stroke-width="1.1"/>
<rect x="664.31" y="1434.03" width="17" height="0.68" fill="rgba(245,185,161,0.5)" stroke="rgba(245,185,161,0.75)" stroke-width="1.1"/>
<rect x="664.31" y="1433.58" width="17" height="0.1" fill="rgba(253,155,157,0.5)" stroke="rgba(253,155,157,0.75)" stroke-width="1.1"/>
<rect x="664.31" y="1205.35" width="17" height="227.13" fill="rgba(229,103,107,0.5)" stroke="rgba(226,86,93,0.8)" stroke-width="1.1"/>
<text x="672.81" y="1673.5" font-size="22.4" text-anchor="middle" fill="#000" stroke="#000" stroke-width="0.3">0</text>
<rect x="684.91" y="1476.74" width="17" height="172.41" fill="rgba(87,151,201,0.5)" stroke="rgba(87,151,201,0.75)" stroke-width="1.1"/>
<rect x="684.91" y="1312.57" width="17" height="163.07" fill="rgba(171,209,231,0.5)" stroke="rgba(171,209,231,0.7)" stroke-width="1.1"/>
<rect x="684.91" y="1236.05" width="17" height="75.42" fill="rgba(223,235,247,0.5)" stroke="rgba(223,235,247,0.7)" stroke-width="1.1"/>
<rect x="684.91" y="1220.03" width="17" height="14.92" fill="rgba(245,185,161,0.5)" stroke="rgba(245,185,161,0.75)" stroke-width="1.1"/>
<rect x="684.91" y="1216.92" width="17" height="2.01" fill="rgba(253,155,157,0.5)" stroke="rgba(253,155,157,0.75)" stroke-width="1.1"/>
<rect x="684.91" y="1205.35" width="17" height="10.47" fill="rgba(229,103,107,0.5)" stroke="rgba(226,86,93,0.8)" stroke-width="1.1"/>
<text x="693.41" y="1673.5" font-size="22.4" text-anchor="middle" fill="#000" stroke="#000" stroke-width="0.3">1</text>
<text x="683.06" y="1693.9" font-size="16.6" text-anchor="middle" fill="#000" stroke="#000" stroke-width="0.3">0-10</text>
<rect x="735.93" y="1638.68" width="17" height="10.47" fill="rgba(87,151,201,0.5)" stroke="rgba(87,151,201,0.75)" stroke-width="1.1"/>
<rect x="735.93" y="1442.26" width="17" height="195.32" fill="rgba(171,209,231,0.5)" stroke="rgba(171,209,231,0.7)" stroke-width="1.1"/>
<rect x="735.93" y="1417.12" width="17" height="24.04" fill="rgba(223,235,247,0.5)" stroke="rgba(223,235,247,0.7)" stroke-width="1.1"/>
<rect x="735.93" y="1396.21" width="17" height="19.81" fill="rgba(245,185,161,0.5)" stroke="rgba(245,185,161,0.75)" stroke-width="1.1"/>
<rect x="735.93" y="1205.35" width="17" height="189.76" fill="rgba(229,103,107,0.5)" stroke="rgba(226,86,93,0.8)" stroke-width="1.1"/>
<text x="744.43" y="1673.5" font-size="22.4" text-anchor="middle" fill="#000" stroke="#000" stroke-width="0.3">0</text>
<rect x="756.53" y="1615.33" width="17" height="33.82" fill="rgba(87,151,201,0.5)" stroke="rgba(87,151,201,0.75)" stroke-width="1.1"/>
<rect x="756.53" y="1378.86" width="17" height="235.36" fill="rgba(171,209,231,0.5)" stroke="rgba(171,209,231,0.7)" stroke-width="1.1"/>
<rect x="756.53" y="1341.93" width="17" height="35.83" fill="rgba(223,235,247,0.5)" stroke="rgba(223,235,247,0.7)" stroke-width="1.1"/>
<rect x="756.53" y="1281.43" width="17" height="59.41" fill="rgba(245,185,161,0.5)" stroke="rgba(245,185,161,0.75)" stroke-width="1.1"/>
<rect x="756.53" y="1205.35" width="17" height="74.98" fill="rgba(229,103,107,0.5)" stroke="rgba(226,86,93,0.8)" stroke-width="1.1"/>
<text x="765.03" y="1673.5" font-size="22.4" text-anchor="middle" fill="#000" stroke="#000" stroke-width="0.3">1</text>
<text x="754.68" y="1693.9" font-size="16.6" text-anchor="middle" fill="#000" stroke="#000" stroke-width="0.3">&gt;10</text>
<line x1="66.1" y1="1184" x2="66.1" y2="1650.6" stroke="#000" stroke-width="1.7"/>
<line x1="57.5" y1="1649.7" x2="799" y2="1649.7" stroke="#222" stroke-width="1.9"/>
<line x1="57.5" y1="1204.8" x2="66.1" y2="1204.8" stroke="#000" stroke-width="1.6"/>
<text transform="translate(44.8,1204.8) rotate(-90)" font-size="27.6" text-anchor="middle" fill="#000" stroke="#000" stroke-width="0.3">1</text>
<line x1="57.5" y1="1293.8" x2="66.1" y2="1293.8" stroke="#000" stroke-width="1.6"/>
<text transform="translate(44.8,1293.8) rotate(-90)" font-size="27.6" text-anchor="middle" fill="#000" stroke="#000" stroke-width="0.3">.8</text>
<line x1="57.5" y1="1382.8" x2="66.1" y2="1382.8" stroke="#000" stroke-width="1.6"/>
<text transform="translate(44.8,1382.8) rotate(-90)" font-size="27.6" text-anchor="middle" fill="#000" stroke="#000" stroke-width="0.3">.6</text>
<line x1="57.5" y1="1471.8" x2="66.1" y2="1471.8" stroke="#000" stroke-width="1.6"/>
<text transform="translate(44.8,1471.8) rotate(-90)" font-size="27.6" text-anchor="middle" fill="#000" stroke="#000" stroke-width="0.3">.4</text>
<line x1="57.5" y1="1560.8" x2="66.1" y2="1560.8" stroke="#000" stroke-width="1.6"/>
<text transform="translate(44.8,1560.8) rotate(-90)" font-size="27.6" text-anchor="middle" fill="#000" stroke="#000" stroke-width="0.3">.2</text>
<line x1="57.5" y1="1649.7" x2="66.1" y2="1649.7" stroke="#000" stroke-width="1.6"/>
<text transform="translate(44.8,1649.7) rotate(-90)" font-size="27.6" text-anchor="middle" fill="#000" stroke="#000" stroke-width="0.3">0</text>
<text transform="translate(16.7,1416.4) rotate(-90)" font-size="23.6" text-anchor="middle" fill="#000" stroke="#000" stroke-width="0.3">Variable importance</text>
<text x="68.2" y="1171.4" font-size="30.5" text-anchor="start" fill="#1a2a56" stroke="#1a2a56" stroke-width="0.3">(e)Outage frequency(Shapely values)</text>
<rect x="815.95" y="1200.75" width="47.7" height="13.3" fill="rgba(229,103,107,0.5)" stroke="rgba(226,86,93,0.8)" stroke-width="1.1"/>
<text x="815.9" y="1257.7" font-size="24" text-anchor="start" fill="#000" stroke="#000" stroke-width="0.3">Heatwave</text>
<rect x="815.95" y="1275.9" width="47.7" height="13.3" fill="rgba(253,155,157,0.5)" stroke="rgba(253,155,157,0.75)" stroke-width="1.1"/>
<text x="815.9" y="1332.8" font-size="24" text-anchor="start" fill="#000" stroke="#000" stroke-width="0.3">Wildfire</text>
<rect x="815.95" y="1351.05" width="47.7" height="13.3" fill="rgba(245,185,161,0.5)" stroke="rgba(245,185,161,0.75)" stroke-width="1.1"/>
<text x="815.9" y="1407.9" font-size="24" text-anchor="start" fill="#000" stroke="#000" stroke-width="0.3">Geo hazard</text>
<rect x="815.95" y="1426.2" width="47.7" height="13.3" fill="rgba(223,235,247,0.5)" stroke="rgba(223,235,247,0.7)" stroke-width="1.1"/>
<text x="815.9" y="1483" font-size="24" text-anchor="start" fill="#000" stroke="#000" stroke-width="0.3">Cold wave</text>
<rect x="815.95" y="1501.35" width="47.7" height="13.3" fill="rgba(171,209,231,0.5)" stroke="rgba(171,209,231,0.7)" stroke-width="1.1"/>
<text x="815.9" y="1558.1" font-size="24" text-anchor="start" fill="#000" stroke="#000" stroke-width="0.3">Rainstorm</text>
<rect x="815.95" y="1576.5" width="47.7" height="13.3" fill="rgba(87,151,201,0.5)" stroke="rgba(87,151,201,0.75)" stroke-width="1.1"/>
<text x="815.9" y="1633.2" font-size="24" text-anchor="start" fill="#000" stroke="#000" stroke-width="0.3">Strong wind</text>
<line x1="1066.9" y1="1204.8" x2="1799" y2="1204.8" stroke="#dde9ed" stroke-width="1.4"/>
<line x1="1066.9" y1="1293.8" x2="1799" y2="1293.8" stroke="#dde9ed" stroke-width="1.4"/>
<line x1="1066.9" y1="1382.8" x2="1799" y2="1382.8" stroke="#dde9ed" stroke-width="1.4"/>
<line x1="1066.9" y1="1471.8" x2="1799" y2="1471.8" stroke="#dde9ed" stroke-width="1.4"/>
<line x1="1066.9" y1="1560.8" x2="1799" y2="1560.8" stroke="#dde9ed" stroke-width="1.4"/>
<rect x="1091.35" y="1627.12" width="17" height="22.03" fill="rgba(87,151,201,0.5)" stroke="rgba(87,151,201,0.75)" stroke-width="1.1"/>
<rect x="1091.35" y="1344.6" width="17" height="281.41" fill="rgba(171,209,231,0.5)" stroke="rgba(171,209,231,0.7)" stroke-width="1.1"/>
<rect x="1091.35" y="1322.36" width="17" height="21.14" fill="rgba(223,235,247,0.5)" stroke="rgba(223,235,247,0.7)" stroke-width="1.1"/>
<rect x="1091.35" y="1303.67" width="17" height="17.59" fill="rgba(245,185,161,0.5)" stroke="rgba(245,185,161,0.75)" stroke-width="1.1"/>
<rect x="1091.35" y="1302.34" width="17" height="0.23" fill="rgba(253,155,157,0.5)" stroke="rgba(253,155,157,0.75)" stroke-width="1.1"/>
<rect x="1091.35" y="1205.35" width="17" height="95.89" fill="rgba(229,103,107,0.5)" stroke="rgba(226,86,93,0.8)" stroke-width="1.1"/>
<text x="1099.85" y="1673.5" font-size="22.4" text-anchor="middle" fill="#000" stroke="#000" stroke-width="0.3">0</text>
<rect x="1111.95" y="1641.13" width="17" height="8.02" fill="rgba(87,151,201,0.5)" stroke="rgba(87,151,201,0.75)" stroke-width="1.1"/>
<rect x="1111.95" y="1318.35" width="17" height="321.67" fill="rgba(171,209,231,0.5)" stroke="rgba(171,209,231,0.7)" stroke-width="1.1"/>
<rect x="1111.95" y="1284.99" width="17" height="32.27" fill="rgba(223,235,247,0.5)" stroke="rgba(223,235,247,0.7)" stroke-width="1.1"/>
<rect x="1111.95" y="1254.29" width="17" height="29.6" fill="rgba(245,185,161,0.5)" stroke="rgba(245,185,161,0.75)" stroke-width="1.1"/>
<rect x="1111.95" y="1252.95" width="17" height="0.23" fill="rgba(253,155,157,0.5)" stroke="rgba(253,155,157,0.75)" stroke-width="1.1"/>
<rect x="1111.95" y="1205.35" width="17" height="46.5" fill="rgba(229,103,107,0.5)" stroke="rgba(226,86,93,0.8)" stroke-width="1.1"/>
<text x="1120.45" y="1673.5" font-size="22.4" text-anchor="middle" fill="#000" stroke="#000" stroke-width="0.3">1</text>
<text x="1110.1" y="1693.9" font-size="16.6" text-anchor="middle" fill="#000" stroke="#000" stroke-width="0.3">Unplanned</text>
<rect x="1162.97" y="1644.15" width="17" height="5" fill="rgba(87,151,201,0.5)" stroke="rgba(87,151,201,0.75)" stroke-width="1.1"/>
<rect x="1162.97" y="1627.12" width="17" height="15.94" fill="rgba(171,209,231,0.5)" stroke="rgba(171,209,231,0.7)" stroke-width="1.1"/>
<rect x="1162.97" y="1464.73" width="17" height="161.29" fill="rgba(223,235,247,0.5)" stroke="rgba(223,235,247,0.7)" stroke-width="1.1"/>
<rect x="1162.97" y="1420.24" width="17" height="43.39" fill="rgba(245,185,161,0.5)" stroke="rgba(245,185,161,0.75)" stroke-width="1.1"/>
<rect x="1162.97" y="1359.29" width="17" height="59.85" fill="rgba(253,155,157,0.5)" stroke="rgba(253,155,157,0.75)" stroke-width="1.1"/>
<rect x="1162.97" y="1205.35" width="17" height="152.84" fill="rgba(229,103,107,0.5)" stroke="rgba(226,86,93,0.8)" stroke-width="1.1"/>
<text x="1171.47" y="1673.5" font-size="22.4" text-anchor="middle" fill="#000" stroke="#000" stroke-width="0.3">0</text>
<rect x="1183.57" y="1533.24" width="17" height="115.91" fill="rgba(87,151,201,0.5)" stroke="rgba(87,151,201,0.75)" stroke-width="1.1"/>
<rect x="1183.57" y="1521.67" width="17" height="10.47" fill="rgba(171,209,231,0.5)" stroke="rgba(171,209,231,0.7)" stroke-width="1.1"/>
<rect x="1183.57" y="1461.17" width="17" height="59.41" fill="rgba(223,235,247,0.5)" stroke="rgba(223,235,247,0.7)" stroke-width="1.1"/>
<rect x="1183.57" y="1296.55" width="17" height="163.51" fill="rgba(245,185,161,0.5)" stroke="rgba(245,185,161,0.75)" stroke-width="1.1"/>
<rect x="1183.57" y="1210.69" width="17" height="84.77" fill="rgba(253,155,157,0.5)" stroke="rgba(253,155,157,0.75)" stroke-width="1.1"/>
<rect x="1183.57" y="1205.35" width="17" height="4.24" fill="rgba(229,103,107,0.5)" stroke="rgba(226,86,93,0.8)" stroke-width="1.1"/>
<text x="1192.07" y="1673.5" font-size="22.4" text-anchor="middle" fill="#000" stroke="#000" stroke-width="0.3">1</text>
<text x="1181.72" y="1693.9" font-size="16.6" text-anchor="middle" fill="#000" stroke="#000" stroke-width="0.3">Planned</text>
<rect x="1234.59" y="1628.01" width="17" height="21.14" fill="rgba(87,151,201,0.5)" stroke="rgba(87,151,201,0.75)" stroke-width="1.1"/>
<rect x="1234.59" y="1579.96" width="17" height="46.95" fill="rgba(171,209,231,0.5)" stroke="rgba(171,209,231,0.7)" stroke-width="1.1"/>
<rect x="1234.59" y="1452.71" width="17" height="126.14" fill="rgba(223,235,247,0.5)" stroke="rgba(223,235,247,0.7)" stroke-width="1.1"/>
<rect x="1234.59" y="1446.93" width="17" height="4.68" fill="rgba(253,155,157,0.5)" stroke="rgba(253,155,157,0.75)" stroke-width="1.1"/>
<rect x="1234.59" y="1205.35" width="17" height="240.48" fill="rgba(229,103,107,0.5)" stroke="rgba(226,86,93,0.8)" stroke-width="1.1"/>
<text x="1243.09" y="1673.5" font-size="22.4" text-anchor="middle" fill="#000" stroke="#000" stroke-width="0.3">0</text>
<rect x="1255.19" y="1593.75" width="17" height="55.4" fill="rgba(87,151,201,0.5)" stroke="rgba(87,151,201,0.75)" stroke-width="1.1"/>
<rect x="1255.19" y="1427.36" width="17" height="165.29" fill="rgba(171,209,231,0.5)" stroke="rgba(171,209,231,0.7)" stroke-width="1.1"/>
<rect x="1255.19" y="1306.79" width="17" height="119.47" fill="rgba(223,235,247,0.5)" stroke="rgba(223,235,247,0.7)" stroke-width="1.1"/>
<rect x="1255.19" y="1287.21" width="17" height="18.48" fill="rgba(245,185,161,0.5)" stroke="rgba(245,185,161,0.75)" stroke-width="1.1"/>
<rect x="1255.19" y="1270.75" width="17" height="15.36" fill="rgba(253,155,157,0.5)" stroke="rgba(253,155,157,0.75)" stroke-width="1.1"/>
<rect x="1255.19" y="1205.35" width="17" height="64.3" fill="rgba(229,103,107,0.5)" stroke="rgba(226,86,93,0.8)" stroke-width="1.1"/>
<text x="1263.69" y="1673.5" font-size="22.4" text-anchor="middle" fill="#000" stroke="#000" stroke-width="0.3">1</text>
<text x="1253.34" y="1693.9" font-size="16.6" text-anchor="middle" fill="#000" stroke="#000" stroke-width="0.3">6h-</text>
<rect x="1306.21" y="1614.21" width="17" height="34.94" fill="rgba(87,151,201,0.5)" stroke="rgba(87,151,201,0.75)" stroke-width="1.1"/>
<rect x="1306.21" y="1385.53" width="17" height="227.58" fill="rgba(171,209,231,0.5)" stroke="rgba(171,209,231,0.7)" stroke-width="1.1"/>
<rect x="1306.21" y="1352.17" width="17" height="32.27" fill="rgba(223,235,247,0.5)" stroke="rgba(223,235,247,0.7)" stroke-width="1.1"/>
<rect x="1306.21" y="1332.59" width="17" height="18.48" fill="rgba(245,185,161,0.5)" stroke="rgba(245,185,161,0.75)" stroke-width="1.1"/>
<rect x="1306.21" y="1327.7" width="17" height="3.79" fill="rgba(253,155,157,0.5)" stroke="rgba(253,155,157,0.75)" stroke-width="1.1"/>
<rect x="1306.21" y="1205.35" width="17" height="121.25" fill="rgba(229,103,107,0.5)" stroke="rgba(226,86,93,0.8)" stroke-width="1.1"/>
<text x="1314.71" y="1673.5" font-size="22.4" text-anchor="middle" fill="#000" stroke="#000" stroke-width="0.3">0</text>
<rect x="1326.81" y="1591.97" width="17" height="57.18" fill="rgba(87,151,201,0.5)" stroke="rgba(87,151,201,0.75)" stroke-width="1.1"/>
<rect x="1326.81" y="1379.31" width="17" height="211.56" fill="rgba(171,209,231,0.5)" stroke="rgba(171,209,231,0.7)" stroke-width="1.1"/>
<rect x="1326.81" y="1330.81" width="17" height="47.39" fill="rgba(223,235,247,0.5)" stroke="rgba(223,235,247,0.7)" stroke-width="1.1"/>
<rect x="1326.81" y="1247.17" width="17" height="82.54" fill="rgba(245,185,161,0.5)" stroke="rgba(245,185,161,0.75)" stroke-width="1.1"/>
<rect x="1326.81" y="1205.35" width="17" height="40.72" fill="rgba(229,103,107,0.5)" stroke="rgba(226,86,93,0.8)" stroke-width="1.1"/>
<text x="1335.31" y="1673.5" font-size="22.4" text-anchor="middle" fill="#000" stroke="#000" stroke-width="0.3">1</text>
<text x="1324.96" y="1693.9" font-size="16.6" text-anchor="middle" fill="#000" stroke="#000" stroke-width="0.3">6h+</text>
<rect x="1377.83" y="1591.08" width="17" height="58.07" fill="rgba(87,151,201,0.5)" stroke="rgba(87,151,201,0.75)" stroke-width="1.1"/>
<rect x="1377.83" y="1571.06" width="17" height="18.92" fill="rgba(171,209,231,0.5)" stroke="rgba(171,209,231,0.7)" stroke-width="1.1"/>
<rect x="1377.83" y="1529.24" width="17" height="40.72" fill="rgba(223,235,247,0.5)" stroke="rgba(223,235,247,0.7)" stroke-width="1.1"/>
<rect x="1377.83" y="1527.9" width="17" height="0.23" fill="rgba(245,185,161,0.5)" stroke="rgba(245,185,161,0.75)" stroke-width="1.1"/>
<rect x="1377.83" y="1514.11" width="17" height="12.69" fill="rgba(253,155,157,0.5)" stroke="rgba(253,155,157,0.75)" stroke-width="1.1"/>
<rect x="1377.83" y="1205.35" width="17" height="307.66" fill="rgba(229,103,107,0.5)" stroke="rgba(226,86,93,0.8)" stroke-width="1.1"/>
<text x="1386.33" y="1673.5" font-size="22.4" text-anchor="middle" fill="#000" stroke="#000" stroke-width="0.3">0</text>
<rect x="1398.43" y="1479.41" width="17" height="169.74" fill="rgba(87,151,201,0.5)" stroke="rgba(87,151,201,0.75)" stroke-width="1.1"/>
<rect x="1398.43" y="1311.68" width="17" height="166.63" fill="rgba(171,209,231,0.5)" stroke="rgba(171,209,231,0.7)" stroke-width="1.1"/>
<rect x="1398.43" y="1238.72" width="17" height="71.86" fill="rgba(223,235,247,0.5)" stroke="rgba(223,235,247,0.7)" stroke-width="1.1"/>
<rect x="1398.43" y="1236.94" width="17" height="0.68" fill="rgba(245,185,161,0.5)" stroke="rgba(245,185,161,0.75)" stroke-width="1.1"/>
<rect x="1398.43" y="1205.35" width="17" height="30.49" fill="rgba(229,103,107,0.5)" stroke="rgba(226,86,93,0.8)" stroke-width="1.1"/>
<text x="1406.93" y="1673.5" font-size="22.4" text-anchor="middle" fill="#000" stroke="#000" stroke-width="0.3">1</text>
<text x="1396.58" y="1693.9" font-size="16.6" text-anchor="middle" fill="#000" stroke="#000" stroke-width="0.3">North</text>
<rect x="1449.45" y="1642.02" width="17" height="7.13" fill="rgba(87,151,201,0.5)" stroke="rgba(87,151,201,0.75)" stroke-width="1.1"/>
<rect x="1449.45" y="1487.42" width="17" height="153.5" fill="rgba(171,209,231,0.5)" stroke="rgba(171,209,231,0.7)" stroke-width="1.1"/>
<rect x="1449.45" y="1432.69" width="17" height="53.62" fill="rgba(223,235,247,0.5)" stroke="rgba(223,235,247,0.7)" stroke-width="1.1"/>
<rect x="1449.45" y="1421.57" width="17" height="10.02" fill="rgba(245,185,161,0.5)" stroke="rgba(245,185,161,0.75)" stroke-width="1.1"/>
<rect x="1449.45" y="1397.99" width="17" height="22.48" fill="rgba(253,155,157,0.5)" stroke="rgba(253,155,157,0.75)" stroke-width="1.1"/>
<rect x="1449.45" y="1205.35" width="17" height="191.54" fill="rgba(229,103,107,0.5)" stroke="rgba(226,86,93,0.8)" stroke-width="1.1"/>
<text x="1457.95" y="1673.5" font-size="22.4" text-anchor="middle" fill="#000" stroke="#000" stroke-width="0.3">0</text>
<rect x="1470.05" y="1648.47" width="17" height="0.68" fill="rgba(87,151,201,0.5)" stroke="rgba(87,151,201,0.75)" stroke-width="1.1"/>
<rect x="1470.05" y="1464.73" width="17" height="182.64" fill="rgba(171,209,231,0.5)" stroke="rgba(171,209,231,0.7)" stroke-width="1.1"/>
<rect x="1470.05" y="1382.42" width="17" height="81.21" fill="rgba(223,235,247,0.5)" stroke="rgba(223,235,247,0.7)" stroke-width="1.1"/>
<rect x="1470.05" y="1302.78" width="17" height="78.54" fill="rgba(245,185,161,0.5)" stroke="rgba(245,185,161,0.75)" stroke-width="1.1"/>
<rect x="1470.05" y="1291.66" width="17" height="10.02" fill="rgba(253,155,157,0.5)" stroke="rgba(253,155,157,0.75)" stroke-width="1.1"/>
<rect x="1470.05" y="1205.35" width="17" height="85.21" fill="rgba(229,103,107,0.5)" stroke="rgba(226,86,93,0.8)" stroke-width="1.1"/>
<text x="1478.55" y="1673.5" font-size="22.4" text-anchor="middle" fill="#000" stroke="#000" stroke-width="0.3">1</text>
<text x="1468.2" y="1693.9" font-size="16.6" text-anchor="middle" fill="#000" stroke="#000" stroke-width="0.3">South</text>
<rect x="1521.07" y="1615.99" width="17" height="33.16" fill="rgba(87,151,201,0.5)" stroke="rgba(87,151,201,0.75)" stroke-width="1.1"/>
<rect x="1521.07" y="1396.21" width="17" height="218.68" fill="rgba(171,209,231,0.5)" stroke="rgba(171,209,231,0.7)" stroke-width="1.1"/>
<rect x="1521.07" y="1354.84" width="17" height="40.28" fill="rgba(245,185,161,0.5)" stroke="rgba(245,185,161,0.75)" stroke-width="1.1"/>
<rect x="1521.07" y="1205.35" width="17" height="148.39" fill="rgba(229,103,107,0.5)" stroke="rgba(226,86,93,0.8)" stroke-width="1.1"/>
<text x="1529.57" y="1673.5" font-size="22.4" text-anchor="middle" fill="#000" stroke="#000" stroke-width="0.3">0</text>
<rect x="1541.67" y="1624" width="17" height="25.15" fill="rgba(87,151,201,0.5)" stroke="rgba(87,151,201,0.75)" stroke-width="1.1"/>
<rect x="1541.67" y="1475.18" width="17" height="147.72" fill="rgba(171,209,231,0.5)" stroke="rgba(171,209,231,0.7)" stroke-width="1.1"/>
<rect x="1541.67" y="1402" width="17" height="72.09" fill="rgba(245,185,161,0.5)" stroke="rgba(245,185,161,0.75)" stroke-width="1.1"/>
<rect x="1541.67" y="1241.39" width="17" height="159.51" fill="rgba(253,155,157,0.5)" stroke="rgba(253,155,157,0.75)" stroke-width="1.1"/>
<rect x="1541.67" y="1205.35" width="17" height="34.94" fill="rgba(229,103,107,0.5)" stroke="rgba(226,86,93,0.8)" stroke-width="1.1"/>
<text x="1550.17" y="1673.5" font-size="22.4" text-anchor="middle" fill="#000" stroke="#000" stroke-width="0.3">1</text>
<text x="1539.82" y="1693.9" font-size="16.6" text-anchor="middle" fill="#000" stroke="#000" stroke-width="0.3">Summer</text>
<rect x="1592.69" y="1593.75" width="17" height="55.4" fill="rgba(87,151,201,0.5)" stroke="rgba(87,151,201,0.75)" stroke-width="1.1"/>
<rect x="1592.69" y="1306.34" width="17" height="286.31" fill="rgba(223,235,247,0.5)" stroke="rgba(223,235,247,0.7)" stroke-width="1.1"/>
<rect x="1592.69" y="1236.49" width="17" height="68.75" fill="rgba(245,185,161,0.5)" stroke="rgba(245,185,161,0.75)" stroke-width="1.1"/>
<rect x="1592.69" y="1212.91" width="17" height="22.48" fill="rgba(253,155,157,0.5)" stroke="rgba(253,155,157,0.75)" stroke-width="1.1"/>
<rect x="1592.69" y="1205.35" width="17" height="6.46" fill="rgba(229,103,107,0.5)" stroke="rgba(226,86,93,0.8)" stroke-width="1.1"/>
<text x="1601.19" y="1673.5" font-size="22.4" text-anchor="middle" fill="#000" stroke="#000" stroke-width="0.3">0</text>
<rect x="1613.29" y="1608.87" width="17" height="40.28" fill="rgba(87,151,201,0.5)" stroke="rgba(87,151,201,0.75)" stroke-width="1.1"/>
<rect x="1613.29" y="1556.82" width="17" height="50.95" fill="rgba(171,209,231,0.5)" stroke="rgba(171,209,231,0.7)" stroke-width="1.1"/>
<rect x="1613.29" y="1240.05" width="17" height="315.67" fill="rgba(223,235,247,0.5)" stroke="rgba(223,235,247,0.7)" stroke-width="1.1"/>
<rect x="1613.29" y="1213.36" width="17" height="25.59" fill="rgba(245,185,161,0.5)" stroke="rgba(245,185,161,0.75)" stroke-width="1.1"/>
<rect x="1613.29" y="1205.79" width="17" height="6.46" fill="rgba(253,155,157,0.5)" stroke="rgba(253,155,157,0.75)" stroke-width="1.1"/>
<rect x="1613.29" y="1205.35" width="17" height="0.1" fill="rgba(229,103,107,0.5)" stroke="rgba(226,86,93,0.8)" stroke-width="1.1"/>
<text x="1621.79" y="1673.5" font-size="22.4" text-anchor="middle" fill="#000" stroke="#000" stroke-width="0.3">1</text>
<text x="1611.44" y="1693.9" font-size="16.6" text-anchor="middle" fill="#000" stroke="#000" stroke-width="0.3">Winter</text>
<rect x="1664.31" y="1608.87" width="17" height="40.28" fill="rgba(87,151,201,0.5)" stroke="rgba(87,151,201,0.75)" stroke-width="1.1"/>
<rect x="1664.31" y="1591.97" width="17" height="15.81" fill="rgba(171,209,231,0.5)" stroke="rgba(171,209,231,0.7)" stroke-width="1.1"/>
<rect x="1664.31" y="1422.46" width="17" height="168.41" fill="rgba(223,235,247,0.5)" stroke="rgba(223,235,247,0.7)" stroke-width="1.1"/>
<rect x="1664.31" y="1419.35" width="17" height="2.01" fill="rgba(245,185,161,0.5)" stroke="rgba(245,185,161,0.75)" stroke-width="1.1"/>
<rect x="1664.31" y="1205.35" width="17" height="212.9" fill="rgba(229,103,107,0.5)" stroke="rgba(226,86,93,0.8)" stroke-width="1.1"/>
<text x="1672.81" y="1673.5" font-size="22.4" text-anchor="middle" fill="#000" stroke="#000" stroke-width="0.3">0</text>
<rect x="1684.91" y="1620.58" width="17" height="28.57" fill="rgba(87,151,201,0.5)" stroke="rgba(87,151,201,0.75)" stroke-width="1.1"/>
<rect x="1684.91" y="1370.41" width="17" height="249.07" fill="rgba(171,209,231,0.5)" stroke="rgba(171,209,231,0.7)" stroke-width="1.1"/>
<rect x="1684.91" y="1250.28" width="17" height="119.02" fill="rgba(223,235,247,0.5)" stroke="rgba(223,235,247,0.7)" stroke-width="1.1"/>
<rect x="1684.91" y="1234.27" width="17" height="14.92" fill="rgba(245,185,161,0.5)" stroke="rgba(245,185,161,0.75)" stroke-width="1.1"/>
<rect x="1684.91" y="1221.37" width="17" height="11.8" fill="rgba(253,155,157,0.5)" stroke="rgba(253,155,157,0.75)" stroke-width="1.1"/>
<rect x="1684.91" y="1205.35" width="17" height="14.92" fill="rgba(229,103,107,0.5)" stroke="rgba(226,86,93,0.8)" stroke-width="1.1"/>
<text x="1693.41" y="1673.5" font-size="22.4" text-anchor="middle" fill="#000" stroke="#000" stroke-width="0.3">1</text>
<text x="1683.06" y="1693.9" font-size="16.6" text-anchor="middle" fill="#000" stroke="#000" stroke-width="0.3">0-10</text>
<rect x="1735.93" y="1629.78" width="17" height="19.37" fill="rgba(87,151,201,0.5)" stroke="rgba(87,151,201,0.75)" stroke-width="1.1"/>
<rect x="1735.93" y="1432.03" width="17" height="196.66" fill="rgba(171,209,231,0.5)" stroke="rgba(171,209,231,0.7)" stroke-width="1.1"/>
<rect x="1735.93" y="1410" width="17" height="20.92" fill="rgba(223,235,247,0.5)" stroke="rgba(223,235,247,0.7)" stroke-width="1.1"/>
<rect x="1735.93" y="1401.11" width="17" height="7.8" fill="rgba(245,185,161,0.5)" stroke="rgba(245,185,161,0.75)" stroke-width="1.1"/>
<rect x="1735.93" y="1397.99" width="17" height="2.01" fill="rgba(253,155,157,0.5)" stroke="rgba(253,155,157,0.75)" stroke-width="1.1"/>
<rect x="1735.93" y="1205.35" width="17" height="191.54" fill="rgba(229,103,107,0.5)" stroke="rgba(226,86,93,0.8)" stroke-width="1.1"/>
<text x="1744.43" y="1673.5" font-size="22.4" text-anchor="middle" fill="#000" stroke="#000" stroke-width="0.3">0</text>
<rect x="1756.53" y="1616.62" width="17" height="32.53" fill="rgba(87,151,201,0.5)" stroke="rgba(87,151,201,0.75)" stroke-width="1.1"/>
<rect x="1756.53" y="1431.8" width="17" height="183.71" fill="rgba(171,209,231,0.5)" stroke="rgba(171,209,231,0.7)" stroke-width="1.1"/>
<rect x="1756.53" y="1413.12" width="17" height="17.59" fill="rgba(223,235,247,0.5)" stroke="rgba(223,235,247,0.7)" stroke-width="1.1"/>
<rect x="1756.53" y="1325.47" width="17" height="86.55" fill="rgba(245,185,161,0.5)" stroke="rgba(245,185,161,0.75)" stroke-width="1.1"/>
<rect x="1756.53" y="1205.35" width="17" height="119.02" fill="rgba(229,103,107,0.5)" stroke="rgba(226,86,93,0.8)" stroke-width="1.1"/>
<text x="1765.03" y="1673.5" font-size="22.4" text-anchor="middle" fill="#000" stroke="#000" stroke-width="0.3">1</text>
<text x="1754.68" y="1693.9" font-size="16.6" text-anchor="middle" fill="#000" stroke="#000" stroke-width="0.3">&gt;10</text>
<line x1="1066.1" y1="1184" x2="1066.1" y2="1650.6" stroke="#000" stroke-width="1.7"/>
<line x1="1057.5" y1="1649.7" x2="1799" y2="1649.7" stroke="#222" stroke-width="1.9"/>
<line x1="1057.5" y1="1204.8" x2="1066.1" y2="1204.8" stroke="#000" stroke-width="1.6"/>
<text transform="translate(1044.8,1204.8) rotate(-90)" font-size="27.6" text-anchor="middle" fill="#000" stroke="#000" stroke-width="0.3">1</text>
<line x1="1057.5" y1="1293.8" x2="1066.1" y2="1293.8" stroke="#000" stroke-width="1.6"/>
<text transform="translate(1044.8,1293.8) rotate(-90)" font-size="27.6" text-anchor="middle" fill="#000" stroke="#000" stroke-width="0.3">.8</text>
<line x1="1057.5" y1="1382.8" x2="1066.1" y2="1382.8" stroke="#000" stroke-width="1.6"/>
<text transform="translate(1044.8,1382.8) rotate(-90)" font-size="27.6" text-anchor="middle" fill="#000" stroke="#000" stroke-width="0.3">.6</text>
<line x1="1057.5" y1="1471.8" x2="1066.1" y2="1471.8" stroke="#000" stroke-width="1.6"/>
<text transform="translate(1044.8,1471.8) rotate(-90)" font-size="27.6" text-anchor="middle" fill="#000" stroke="#000" stroke-width="0.3">.4</text>
<line x1="1057.5" y1="1560.8" x2="1066.1" y2="1560.8" stroke="#000" stroke-width="1.6"/>
<text transform="translate(1044.8,1560.8) rotate(-90)" font-size="27.6" text-anchor="middle" fill="#000" stroke="#000" stroke-width="0.3">.2</text>
<line x1="1057.5" y1="1649.7" x2="1066.1" y2="1649.7" stroke="#000" stroke-width="1.6"/>
<text transform="translate(1044.8,1649.7) rotate(-90)" font-size="27.6" text-anchor="middle" fill="#000" stroke="#000" stroke-width="0.3">0</text>
<text transform="translate(1016.7,1416.4) rotate(-90)" font-size="23.6" text-anchor="middle" fill="#000" stroke="#000" stroke-width="0.3">Variable importance</text>
<text x="1068.2" y="1171.4" font-size="30.5" text-anchor="start" fill="#1a2a56" stroke="#1a2a56" stroke-width="0.3">(f)Outage duration(Shapely values)</text>
<rect x="1815.95" y="1200.75" width="47.7" height="13.3" fill="rgba(229,103,107,0.5)" stroke="rgba(226,86,93,0.8)" stroke-width="1.1"/>
<text x="1815.9" y="1257.7" font-size="24" text-anchor="start" fill="#000" stroke="#000" stroke-width="0.3">Heatwave</text>
<rect x="1815.95" y="1275.9" width="47.7" height="13.3" fill="rgba(253,155,157,0.5)" stroke="rgba(253,155,157,0.75)" stroke-width="1.1"/>
<text x="1815.9" y="1332.8" font-size="24" text-anchor="start" fill="#000" stroke="#000" stroke-width="0.3">Wildfire</text>
<rect x="1815.95" y="1351.05" width="47.7" height="13.3" fill="rgba(245,185,161,0.5)" stroke="rgba(245,185,161,0.75)" stroke-width="1.1"/>
<text x="1815.9" y="1407.9" font-size="24" text-anchor="start" fill="#000" stroke="#000" stroke-width="0.3">Geo hazard</text>
<rect x="1815.95" y="1426.2" width="47.7" height="13.3" fill="rgba(223,235,247,0.5)" stroke="rgba(223,235,247,0.7)" stroke-width="1.1"/>
<text x="1815.9" y="1483" font-size="24" text-anchor="start" fill="#000" stroke="#000" stroke-width="0.3">Cold wave</text>
<rect x="1815.95" y="1501.35" width="47.7" height="13.3" fill="rgba(171,209,231,0.5)" stroke="rgba(171,209,231,0.7)" stroke-width="1.1"/>
<text x="1815.9" y="1558.1" font-size="24" text-anchor="start" fill="#000" stroke="#000" stroke-width="0.3">Rainstorm</text>
<rect x="1815.95" y="1576.5" width="47.7" height="13.3" fill="rgba(87,151,201,0.5)" stroke="rgba(87,151,201,0.75)" stroke-width="1.1"/>
<text x="1815.9" y="1633.2" font-size="24" text-anchor="start" fill="#000" stroke="#000" stroke-width="0.3">Strong wind</text>
</g></svg>
</body></html>
